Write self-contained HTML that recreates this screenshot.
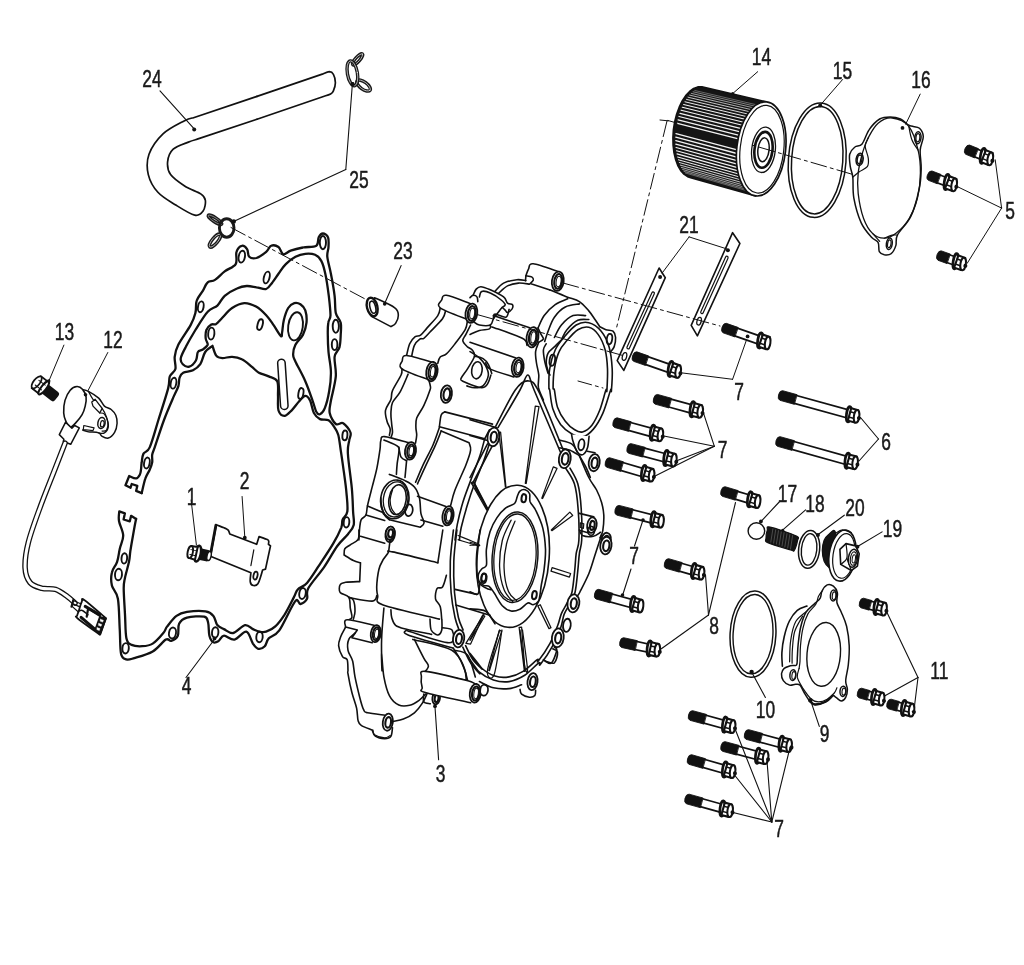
<!DOCTYPE html>
<html><head><meta charset="utf-8"><title>Parts diagram</title>
<style>
html,body{margin:0;padding:0;background:#fff;}
body{width:1024px;height:965px;overflow:hidden;}
svg{display:block;filter:blur(0.45px);}
text{font-family:"Liberation Sans",sans-serif;fill:#1a1a1a;}
path,line,ellipse{stroke-linecap:round;stroke-linejoin:round;}
</style></head><body>
<svg width="1024" height="965" viewBox="0 0 1024 965">
<rect width="1024" height="965" fill="#fff"/>
<!-- 00_labels.py -->
<text transform="translate(142.3 86.5) scale(0.75 1)" font-size="23.2" text-anchor="start" stroke="#1a1a1a" stroke-width="0.5">24</text>
<text transform="translate(349.3 187.5) scale(0.75 1)" font-size="23.2" text-anchor="start" stroke="#1a1a1a" stroke-width="0.5">25</text>
<text transform="translate(393.3 259.0) scale(0.75 1)" font-size="23.2" text-anchor="start" stroke="#1a1a1a" stroke-width="0.5">23</text>
<text transform="translate(54.8 340.0) scale(0.75 1)" font-size="23.2" text-anchor="start" stroke="#1a1a1a" stroke-width="0.5">13</text>
<text transform="translate(103.3 348.0) scale(0.75 1)" font-size="23.2" text-anchor="start" stroke="#1a1a1a" stroke-width="0.5">12</text>
<text transform="translate(751.8 65.0) scale(0.75 1)" font-size="23.2" text-anchor="start" stroke="#1a1a1a" stroke-width="0.5">14</text>
<text transform="translate(832.8 79.0) scale(0.75 1)" font-size="23.2" text-anchor="start" stroke="#1a1a1a" stroke-width="0.5">15</text>
<text transform="translate(911.3 88.0) scale(0.75 1)" font-size="23.2" text-anchor="start" stroke="#1a1a1a" stroke-width="0.5">16</text>
<text transform="translate(1005.3 219.0) scale(0.75 1)" font-size="23.2" text-anchor="start" stroke="#1a1a1a" stroke-width="0.5">5</text>
<text transform="translate(679.3 232.5) scale(0.75 1)" font-size="23.2" text-anchor="start" stroke="#1a1a1a" stroke-width="0.5">21</text>
<text transform="translate(734.3 400.2) scale(0.75 1)" font-size="23.2" text-anchor="start" stroke="#1a1a1a" stroke-width="0.5">7</text>
<text transform="translate(717.8 457.5) scale(0.75 1)" font-size="23.2" text-anchor="start" stroke="#1a1a1a" stroke-width="0.5">7</text>
<text transform="translate(881.3 449.8) scale(0.75 1)" font-size="23.2" text-anchor="start" stroke="#1a1a1a" stroke-width="0.5">6</text>
<text transform="translate(186.8 505.0) scale(0.75 1)" font-size="23.2" text-anchor="start" stroke="#1a1a1a" stroke-width="0.5">1</text>
<text transform="translate(239.8 489.0) scale(0.75 1)" font-size="23.2" text-anchor="start" stroke="#1a1a1a" stroke-width="0.5">2</text>
<text transform="translate(181.8 694.0) scale(0.75 1)" font-size="23.2" text-anchor="start" stroke="#1a1a1a" stroke-width="0.5">4</text>
<text transform="translate(435.8 781.5) scale(0.75 1)" font-size="23.2" text-anchor="start" stroke="#1a1a1a" stroke-width="0.5">3</text>
<text transform="translate(777.8 501.5) scale(0.75 1)" font-size="23.2" text-anchor="start" stroke="#1a1a1a" stroke-width="0.5">17</text>
<text transform="translate(805.3 511.5) scale(0.75 1)" font-size="23.2" text-anchor="start" stroke="#1a1a1a" stroke-width="0.5">18</text>
<text transform="translate(845.3 515.5) scale(0.75 1)" font-size="23.2" text-anchor="start" stroke="#1a1a1a" stroke-width="0.5">20</text>
<text transform="translate(882.8 536.5) scale(0.75 1)" font-size="23.2" text-anchor="start" stroke="#1a1a1a" stroke-width="0.5">19</text>
<text transform="translate(629.3 564.0) scale(0.75 1)" font-size="23.2" text-anchor="start" stroke="#1a1a1a" stroke-width="0.5">7</text>
<text transform="translate(709.3 634.0) scale(0.75 1)" font-size="23.2" text-anchor="start" stroke="#1a1a1a" stroke-width="0.5">8</text>
<text transform="translate(930.3 679.0) scale(0.75 1)" font-size="23.2" text-anchor="start" stroke="#1a1a1a" stroke-width="0.5">11</text>
<text transform="translate(755.8 717.5) scale(0.75 1)" font-size="23.2" text-anchor="start" stroke="#1a1a1a" stroke-width="0.5">10</text>
<text transform="translate(819.8 741.5) scale(0.75 1)" font-size="23.2" text-anchor="start" stroke="#1a1a1a" stroke-width="0.5">9</text>
<text transform="translate(774.3 836.5) scale(0.75 1)" font-size="23.2" text-anchor="start" stroke="#1a1a1a" stroke-width="0.5">7</text>
<!-- 10_hose.py -->
<path d="M257.0 96.4L323.0 73.9C324.0 73.5 327.6 71.7 329.3 71.7C331.1 71.8 332.4 72.5 333.4 74.3C334.4 76.1 335.4 79.9 335.4 82.7C335.4 85.4 334.2 88.9 333.4 90.8C332.6 92.7 332.1 93.2 330.6 94.1C329.1 95.0 325.3 95.9 324.2 96.2L257.0 119.2" fill="none" stroke="#111" stroke-width="1.70" />
<path d="M257.0 96.4L193.5 117.7C192.0 118.2 189.7 118.0 184.6 120.7C179.5 123.5 168.9 128.4 163.0 133.9C157.1 139.5 151.5 147.5 149.0 154.3C146.6 161.0 146.8 168.2 148.3 174.6C149.8 180.9 153.4 187.3 157.9 192.3C162.5 197.4 169.6 201.2 175.7 205.0C181.8 208.8 190.2 214.2 194.7 215.2C199.3 216.2 201.3 213.6 203.1 211.1C204.9 208.7 205.7 203.3 205.4 200.5C205.1 197.6 204.6 196.5 201.1 194.1C197.6 191.7 189.7 189.3 184.6 186.0C179.5 182.7 173.5 178.6 170.6 174.6C167.8 170.6 167.2 166.1 167.6 161.9C168.0 157.6 169.7 152.5 173.2 149.2C176.6 145.9 184.5 143.7 188.4 142.1C192.3 140.4 195.2 139.8 196.5 139.4L257.0 119.2" fill="none" stroke="#111" stroke-width="1.70" />
<line x1="160.0" y1="90.8" x2="194.2" y2="128.9" stroke="#111" stroke-width="1.10"/>
<circle cx="194.2" cy="129.4" r="2.0" fill="#111"/>
<line x1="345.8" y1="169.5" x2="352.4" y2="83.7" stroke="#111" stroke-width="1.10"/>
<circle cx="352.4" cy="83.7" r="1.7" fill="#111"/>
<line x1="345.8" y1="169.5" x2="233.6" y2="221.5" stroke="#111" stroke-width="1.10"/>
<circle cx="233.1" cy="221.8" r="1.7" fill="#111"/>
<ellipse cx="357.6" cy="59.3" rx="7.2" ry="2.2" transform="rotate(-48.0 357.6 59.3)" fill="none" stroke="#1a1a1a" stroke-width="3.4"/>
<ellipse cx="357.6" cy="59.3" rx="7.2" ry="2.2" transform="rotate(-48.0 357.6 59.3)" fill="none" stroke="#fff" stroke-width="0.6"/>
<ellipse cx="363.6" cy="85.6" rx="8.0" ry="3.6" transform="rotate(36.0 363.6 85.6)" fill="none" stroke="#1a1a1a" stroke-width="3.4"/>
<ellipse cx="363.6" cy="85.6" rx="8.0" ry="3.6" transform="rotate(36.0 363.6 85.6)" fill="none" stroke="#fff" stroke-width="0.6"/>
<ellipse cx="352.4" cy="73.3" rx="5.0" ry="12.6" transform="rotate(-10.0 352.4 73.3)" fill="none" stroke="#1a1a1a" stroke-width="3.4"/>
<ellipse cx="352.4" cy="73.3" rx="5.0" ry="12.6" transform="rotate(-10.0 352.4 73.3)" fill="none" stroke="#fff" stroke-width="0.6"/>
<ellipse cx="215.0" cy="219.8" rx="8.0" ry="2.0" transform="rotate(33.0 215.0 219.8)" fill="none" stroke="#1a1a1a" stroke-width="3.4"/>
<ellipse cx="215.0" cy="219.8" rx="8.0" ry="2.0" transform="rotate(33.0 215.0 219.8)" fill="none" stroke="#fff" stroke-width="0.4"/>
<ellipse cx="215.0" cy="240.6" rx="8.2" ry="2.8" transform="rotate(-50.0 215.0 240.6)" fill="none" stroke="#1a1a1a" stroke-width="3.4"/>
<ellipse cx="215.0" cy="240.6" rx="8.2" ry="2.8" transform="rotate(-50.0 215.0 240.6)" fill="none" stroke="#fff" stroke-width="0.6"/>
<ellipse cx="226.7" cy="228.0" rx="7.3" ry="9.2" transform="rotate(0.0 226.7 228.0)" fill="none" stroke="#1a1a1a" stroke-width="2.9"/>
<circle cx="352.6" cy="84.2" r="2.1" fill="#111"/>
<circle cx="233.8" cy="221.4" r="2.2" fill="#111"/>
<!-- 20_gasket.py -->
<path d="M141.7 493.1L136.1 490.9L137.3 485.9L131.7 484.0L130.5 487.8L125.5 485.3L129.2 476.0C130.4 476.4 134.3 478.7 136.1 478.4C137.8 478.2 139.0 476.2 139.8 474.7C140.6 473.3 140.7 471.8 141.0 469.7C141.3 467.7 141.2 465.0 141.7 462.3C142.1 459.6 142.2 456.1 143.5 453.6C144.9 451.1 147.3 453.0 149.7 447.4C152.2 441.8 155.4 429.8 158.4 420.0C161.5 410.2 166.2 395.8 168.1 388.6C170.0 381.3 168.6 379.6 169.8 376.4C171.0 373.1 174.6 372.3 175.4 369.0C176.2 365.8 174.2 360.9 174.7 356.8C175.2 352.8 175.7 349.9 178.4 344.6C181.0 339.3 187.7 330.4 190.6 325.1C193.4 319.8 194.4 317.0 195.4 312.9C196.5 308.8 195.4 304.3 196.7 300.7C197.9 297.0 200.9 294.0 202.8 290.9C204.6 287.9 205.6 284.2 207.7 282.4C209.7 280.5 212.1 281.8 215.0 279.9C217.8 278.1 221.3 274.0 224.7 271.4C228.2 268.7 233.8 267.3 235.7 264.1C237.7 260.8 235.4 254.9 236.5 251.9C237.5 248.8 240.0 246.2 241.8 245.8C243.6 245.3 246.0 247.6 247.2 249.4C248.4 251.2 247.6 255.3 249.2 256.7C250.7 258.2 253.6 258.8 256.5 258.0C259.3 257.1 263.8 253.9 266.2 251.9C268.7 249.8 269.1 246.6 271.1 245.8C273.2 244.9 276.4 245.5 278.5 247.0C280.5 248.4 281.3 253.7 283.3 254.3C285.4 254.9 287.4 251.8 290.7 250.6C293.9 249.5 298.6 248.3 302.9 247.5C307.1 246.6 313.7 247.5 316.3 245.8C318.9 244.0 317.6 239.2 318.7 237.2C319.8 235.2 321.3 233.5 322.9 233.5C324.4 233.5 327.1 235.0 328.0 237.2C329.0 239.4 328.6 243.7 328.5 247.0C328.4 250.2 326.9 252.3 327.3 256.7C327.7 261.2 329.7 267.3 330.9 273.8C332.2 280.3 333.8 289.3 334.6 295.8C335.4 302.3 334.8 308.4 335.8 312.9C336.8 317.4 339.9 319.0 340.7 322.7C341.5 326.3 340.9 330.8 340.7 334.9C340.5 338.9 340.5 343.4 339.5 347.1C338.5 350.7 335.2 352.0 334.6 356.8C334.0 361.7 336.4 369.0 335.8 376.4C335.2 383.7 332.0 394.7 330.9 400.8C329.9 406.9 328.9 409.1 329.7 413.0C330.5 416.9 333.6 422.3 335.8 424.0C338.1 425.7 340.7 421.8 343.2 423.2C345.6 424.7 349.5 429.6 350.5 432.5C351.5 435.4 349.6 437.0 349.2 440.5C348.7 444.1 347.4 445.8 347.9 453.7C348.3 461.6 350.9 478.3 351.8 488.0C352.7 497.7 352.8 505.6 353.1 511.7C353.4 517.9 354.5 521.2 353.7 524.9C352.8 528.7 350.6 530.6 347.9 534.2C345.1 537.7 341.3 540.5 337.3 546.0C333.3 551.5 329.0 560.1 324.1 567.1C319.3 574.1 311.2 582.9 308.3 588.2C305.4 593.5 308.3 596.1 307.0 598.8C305.7 601.4 302.4 603.6 300.4 604.0C298.4 604.5 298.6 597.0 295.1 601.4C291.6 605.8 283.7 624.2 279.3 630.4C274.9 636.5 271.2 635.7 268.8 638.3C266.3 640.9 266.6 644.5 264.8 646.2C263.0 648.0 260.2 649.3 258.2 648.8C256.2 648.4 254.9 646.4 252.9 643.6C251.0 640.7 249.4 632.4 246.3 631.7C243.3 631.0 238.2 639.0 234.5 639.6C230.7 640.3 226.6 635.4 223.9 635.7C221.3 635.9 220.4 639.8 218.7 640.9C216.9 642.0 214.9 643.1 213.4 642.3C211.8 641.4 210.3 639.0 209.4 635.7C208.5 632.4 209.0 625.6 208.1 622.5C207.2 619.3 207.7 617.5 204.2 616.7C200.6 615.9 191.2 616.5 187.0 617.7C182.8 618.9 180.6 620.8 179.1 623.8C177.6 626.8 179.1 632.8 177.8 635.7C176.5 638.5 173.2 640.3 171.2 640.9C169.2 641.6 169.0 637.9 165.9 639.6C162.8 641.4 158.0 648.4 152.7 651.5C147.5 654.6 138.7 656.8 134.3 658.1C129.9 659.4 128.6 660.1 126.4 659.4C124.2 658.7 122.2 659.0 121.1 654.1C120.0 649.3 120.3 639.6 119.8 630.4C119.2 621.2 119.2 606.2 117.9 598.8C116.6 591.3 112.9 590.0 111.9 585.6C110.9 581.2 111.0 576.3 111.9 572.4C112.7 568.4 115.8 565.8 117.1 561.8C118.5 557.9 118.8 553.0 119.8 548.7C120.8 544.3 123.3 540.1 123.2 535.5C123.1 530.9 119.6 525.0 119.0 521.0C118.3 517.0 119.2 513.0 119.3 511.4L124.9 513.3L123.6 519.5L129.8 521.3L131.1 515.8L136.1 518.9" fill="none" stroke="#111" stroke-width="2.30" />
<path d="M141.7 493.1C142.3 490.7 144.0 482.3 145.4 478.4C146.7 474.5 148.6 472.4 149.7 469.7C150.9 467.0 151.8 464.8 152.2 462.3C152.6 459.8 151.8 457.3 152.2 454.8C152.6 452.3 152.7 453.2 154.7 447.4C156.7 441.6 160.8 428.6 164.0 420.0C167.2 411.4 171.6 401.5 174.0 395.9C176.4 390.3 177.4 389.2 178.4 386.1C179.3 383.1 178.8 379.8 179.6 377.6C180.4 375.3 181.0 373.9 183.2 372.7C185.5 371.5 190.2 371.7 193.0 370.3C195.9 368.8 198.3 367.2 200.3 364.2C202.4 361.1 203.2 355.0 205.2 352.0C207.2 348.9 211.3 346.9 212.5 345.8C213.1 347.5 214.6 353.6 216.2 355.6C217.8 357.6 219.7 357.9 222.3 358.1C224.9 358.3 228.8 356.6 232.1 356.8C235.3 357.0 238.6 357.6 241.8 359.3C245.1 360.9 248.8 364.4 251.6 366.6C254.4 368.8 256.1 371.1 258.9 372.7C261.8 374.3 265.6 374.9 268.7 376.4C271.7 377.8 275.7 378.0 277.2 381.2C278.8 384.5 277.8 391.0 278.0 395.9C278.2 400.8 277.4 407.2 278.5 410.5C279.6 413.9 282.3 416.0 284.6 415.9C286.8 415.8 289.4 412.5 291.9 410.1C294.3 407.6 297.0 403.6 299.2 401.3C301.4 398.9 303.5 396.0 305.3 395.9C307.1 395.8 308.8 397.9 310.2 400.8C311.6 403.6 312.2 409.9 313.9 413.0C315.5 416.0 317.5 417.9 320.0 419.1C322.4 420.3 326.1 418.9 328.5 420.3C330.9 421.7 333.0 425.2 334.6 427.6C336.2 430.1 337.3 431.2 338.3 435.0C339.3 438.7 339.8 443.9 340.7 450.1C341.7 456.3 342.9 465.0 343.9 472.2C344.9 479.4 346.0 486.7 346.5 493.3C347.1 499.9 348.0 507.3 347.3 511.7C346.7 516.1 343.6 517.0 342.6 519.6C341.6 522.3 342.8 523.6 341.3 527.6C339.7 531.5 337.1 537.0 333.3 543.4C329.6 549.8 323.2 559.2 318.8 565.8C314.5 572.4 310.5 579.0 307.0 582.9C303.5 586.9 300.0 587.1 297.8 589.5C295.6 591.9 296.0 593.3 293.8 597.4C291.6 601.6 287.6 609.7 284.6 614.6C281.5 619.4 278.4 623.6 275.3 626.4C272.3 629.3 268.8 630.8 266.1 631.7C263.5 632.6 261.7 632.1 259.5 631.7C257.3 631.3 255.3 630.2 252.9 629.1C250.5 628.0 248.3 624.5 245.0 625.1C241.7 625.8 236.7 632.4 233.2 633.0C229.6 633.7 226.6 630.4 223.9 629.1C221.3 627.8 219.1 627.3 217.3 625.1C215.6 622.9 215.4 618.2 213.4 615.9C211.4 613.6 209.9 612.1 205.5 611.4C201.1 610.7 191.8 611.2 187.0 611.9C182.2 612.7 179.8 613.5 176.5 615.9C173.2 618.3 169.4 623.6 167.2 626.4C165.0 629.3 165.7 630.2 163.3 633.0C160.9 635.9 156.2 641.4 152.7 643.6C149.2 645.8 145.7 646.0 142.2 646.2C138.7 646.4 134.3 646.2 131.6 644.9C129.0 643.6 127.5 643.4 126.4 638.3C125.3 633.2 125.5 622.9 125.0 614.6C124.6 606.2 123.7 594.4 123.7 588.2C123.7 582.1 124.2 582.1 125.0 577.7C125.9 573.3 128.1 566.2 129.0 561.8C129.9 557.4 129.7 555.7 130.3 551.3C131.0 546.9 132.0 540.9 133.0 535.5C133.9 530.1 135.5 521.6 136.1 518.9" fill="none" stroke="#111" stroke-width="2.30" />
<path d="M180.8 358.1C181.3 355.2 183.2 351.7 185.7 347.1C188.1 342.4 191.8 335.9 195.4 330.0C199.1 324.1 204.0 315.7 207.7 311.7C211.3 307.6 214.6 308.2 217.4 305.6C220.3 302.9 221.5 298.6 224.7 295.8C228.0 293.0 233.3 290.1 237.0 288.5C240.6 286.8 243.5 286.2 246.7 286.0C250.0 285.8 253.2 286.8 256.5 287.3C259.7 287.7 263.6 289.8 266.2 289.0C268.9 288.2 270.3 284.9 272.4 282.4C274.4 279.9 276.2 276.9 278.5 273.8C280.7 270.8 282.9 266.9 285.8 264.1C288.6 261.2 292.3 258.4 295.5 256.7C298.8 255.0 302.1 254.1 305.3 253.8C308.6 253.5 312.4 253.6 315.1 254.8C317.8 256.0 319.7 258.0 321.4 261.1C323.1 264.3 324.1 268.1 325.3 273.8C326.6 279.6 327.9 288.9 328.8 295.8C329.6 302.7 330.5 310.9 330.5 315.3C330.4 319.8 328.7 319.4 328.3 322.7C327.8 325.9 327.7 330.0 327.8 334.9C327.8 339.7 328.0 345.8 328.5 352.0C329.0 358.1 330.8 365.0 330.9 371.5C331.1 378.0 330.3 384.9 329.2 391.0C328.2 397.1 326.4 404.2 324.8 408.1C323.3 412.0 321.4 413.6 320.0 414.2C318.5 414.8 317.5 414.0 316.3 411.8C315.1 409.5 314.5 405.9 312.6 400.8C310.8 395.7 308.2 387.8 305.3 381.2C302.5 374.7 297.6 366.2 295.5 361.7C293.5 357.2 293.1 357.2 293.1 354.4C293.1 351.5 293.9 347.9 295.5 344.6C297.2 341.4 301.0 338.5 302.9 334.9C304.7 331.2 306.1 326.7 306.5 322.7C306.9 318.6 306.3 313.5 305.3 310.4C304.3 307.4 302.3 305.6 300.4 304.3C298.6 303.1 296.4 302.5 294.3 303.1C292.3 303.7 290.0 305.2 288.2 308.0C286.5 310.9 284.8 316.1 283.8 320.2C282.8 324.3 282.6 329.8 282.1 332.4C281.6 335.1 282.3 337.3 280.9 336.1C279.5 334.9 276.0 328.6 273.6 325.1C271.1 321.6 269.1 318.4 266.2 315.3C263.4 312.3 260.1 308.8 256.5 306.8C252.8 304.8 248.3 302.9 244.3 303.1C240.2 303.3 235.7 305.6 232.1 308.0C228.4 310.4 224.9 315.1 222.3 317.8C219.7 320.4 218.0 322.7 216.2 323.9C214.4 325.0 212.9 323.6 211.3 324.6C209.7 325.6 207.4 327.7 206.4 330.0C205.5 332.3 205.5 336.1 205.7 338.5C205.9 341.0 208.1 342.8 207.7 344.6C207.2 346.5 204.4 348.3 202.8 349.5C201.1 350.7 199.0 350.1 197.9 352.0C196.8 353.8 197.4 358.1 195.9 360.5C194.5 362.9 191.5 366.0 189.3 366.6C187.1 367.2 184.2 365.6 182.8 364.2C181.3 362.7 180.3 360.9 180.8 358.1Z" fill="none" stroke="#111" stroke-width="2.30" />
<ellipse cx="322.9" cy="242.6" rx="3.1" ry="6.6" transform="rotate(0.0 322.9 242.6)" fill="none" stroke="#111" stroke-width="1.90"/>
<ellipse cx="241.8" cy="256.7" rx="3.1" ry="6.0" transform="rotate(10.0 241.8 256.7)" fill="none" stroke="#111" stroke-width="1.90"/>
<ellipse cx="200.8" cy="306.8" rx="2.8" ry="5.5" transform="rotate(10.0 200.8 306.8)" fill="none" stroke="#111" stroke-width="1.90"/>
<ellipse cx="211.3" cy="333.6" rx="3.1" ry="6.0" transform="rotate(5.0 211.3 333.6)" fill="none" stroke="#111" stroke-width="1.90"/>
<ellipse cx="173.5" cy="383.2" rx="2.8" ry="5.5" transform="rotate(10.0 173.5 383.2)" fill="none" stroke="#111" stroke-width="1.90"/>
<ellipse cx="266.7" cy="277.5" rx="2.8" ry="6.0" transform="rotate(15.0 266.7 277.5)" fill="none" stroke="#111" stroke-width="1.90"/>
<ellipse cx="260.1" cy="324.6" rx="2.5" ry="5.5" transform="rotate(15.0 260.1 324.6)" fill="none" stroke="#111" stroke-width="1.90"/>
<ellipse cx="335.8" cy="326.3" rx="3.1" ry="6.6" transform="rotate(0.0 335.8 326.3)" fill="none" stroke="#111" stroke-width="1.90"/>
<ellipse cx="334.6" cy="344.6" rx="2.8" ry="5.5" transform="rotate(0.0 334.6 344.6)" fill="none" stroke="#111" stroke-width="1.90"/>
<ellipse cx="300.9" cy="393.5" rx="2.5" ry="5.5" transform="rotate(10.0 300.9 393.5)" fill="none" stroke="#111" stroke-width="1.90"/>
<ellipse cx="344.9" cy="435.4" rx="2.5" ry="4.9" transform="rotate(5.0 344.9 435.4)" fill="none" stroke="#111" stroke-width="1.90"/>
<ellipse cx="295.5" cy="326.3" rx="7.3" ry="14.2" transform="rotate(8.0 295.5 326.3)" fill="none" stroke="#111" stroke-width="1.90"/>
<ellipse cx="125.6" cy="648.3" rx="3.2" ry="5.2" transform="rotate(5.0 125.6 648.3)" fill="none" stroke="#111" stroke-width="1.90"/>
<ellipse cx="172.5" cy="633.0" rx="3.5" ry="5.5" transform="rotate(10.0 172.5 633.0)" fill="none" stroke="#111" stroke-width="1.90"/>
<ellipse cx="215.2" cy="632.5" rx="3.2" ry="5.2" transform="rotate(5.0 215.2 632.5)" fill="none" stroke="#111" stroke-width="1.90"/>
<ellipse cx="259.5" cy="637.0" rx="3.2" ry="5.2" transform="rotate(5.0 259.5 637.0)" fill="none" stroke="#111" stroke-width="1.90"/>
<ellipse cx="302.5" cy="593.5" rx="3.2" ry="5.5" transform="rotate(10.0 302.5 593.5)" fill="none" stroke="#111" stroke-width="1.90"/>
<ellipse cx="346.5" cy="522.3" rx="2.8" ry="5.2" transform="rotate(5.0 346.5 522.3)" fill="none" stroke="#111" stroke-width="1.90"/>
<ellipse cx="124.3" cy="558.4" rx="2.8" ry="5.2" transform="rotate(5.0 124.3 558.4)" fill="none" stroke="#111" stroke-width="1.90"/>
<ellipse cx="118.5" cy="574.5" rx="3.5" ry="5.8" transform="rotate(5.0 118.5 574.5)" fill="none" stroke="#111" stroke-width="1.90"/>
<ellipse cx="146.9" cy="463.0" rx="2.8" ry="5.5" transform="rotate(10.0 146.9 463.0)" fill="none" stroke="#111" stroke-width="1.90"/>
<path d="M281.4 362.9L284.3 405.7" fill="none" stroke="#111" stroke-width="9" stroke-linecap="round"/>
<path d="M281.4 362.9L284.3 405.7" fill="none" stroke="#fff" stroke-width="6" stroke-linecap="round"/>
<!-- 30_sensor_plate.py -->
<path d="M216.3 524.8C217.9 525.5 224.2 527.7 226.2 528.7C228.3 529.7 228.0 529.8 228.6 530.7C229.2 531.6 229.6 533.4 229.8 534.0L256.7 544.3L259.1 536.6C260.4 537.1 265.7 538.8 267.3 539.6C268.9 540.4 268.5 540.5 268.7 541.2C268.9 542.0 268.5 543.8 268.4 544.3L270.5 545.9L265.5 569.1L262.6 570.0C262.3 571.0 261.6 573.9 260.8 576.2C260.0 578.5 259.1 582.2 257.9 583.8C256.7 585.4 254.7 585.8 253.4 585.5C252.2 585.3 250.7 584.2 250.3 582.0C249.8 579.9 250.8 574.2 250.9 572.7L210.4 556.2L216.3 524.8Z" fill="#fff" stroke="#111" stroke-width="1.70" />
<line x1="215.9" y1="525.2" x2="210.2" y2="556.0" stroke="#111" stroke-width="2.80"/>
<line x1="253.8" y1="549.8" x2="250.9" y2="565.6" stroke="#111" stroke-width="1.20"/>
<ellipse cx="255.5" cy="575.6" rx="2.0" ry="4.0" transform="rotate(12.0 255.5 575.6)" fill="none" stroke="#111" stroke-width="1.80"/>
<g transform="translate(193.4 552.7) rotate(12)">
<rect x="2" y="-5.8" width="15" height="11.6" rx="3" fill="#111"/>
<ellipse cx="16" cy="0" rx="2.0" ry="4.6" fill="#fff" stroke="#111" stroke-width="1.4"/>
<ellipse cx="4.5" cy="0" rx="3" ry="8" fill="#fff" stroke="#111" stroke-width="2.6"/>
<path d="M-3.5 -6 L3 -6.5 L3 6.5 L-3.5 6 Z" fill="#fff" stroke="#111" stroke-width="2.0"/>
<ellipse cx="-3.2" cy="0" rx="2.6" ry="6.2" fill="#fff" stroke="#111" stroke-width="1.9"/>
<path d="M-3 -2.5 L3 -2.5 M-3 2.5 L3 2.5" stroke="#111" stroke-width="1"/>
</g>
<line x1="191.1" y1="500.0" x2="196.4" y2="545.1" stroke="#111" stroke-width="1.00"/>
<line x1="242.1" y1="496.5" x2="244.8" y2="537.3" stroke="#111" stroke-width="1.00"/>
<circle cx="244.8" cy="537.7" r="1.9" fill="#111"/>
<path d="M82.1 389.6C83.2 389.9 85.6 389.9 88.4 391.3C91.1 392.7 96.0 395.7 98.7 398.1C101.3 400.6 102.3 404.2 104.4 406.1C106.4 408.0 109.3 408.0 111.2 409.5C113.1 411.1 114.8 413.0 115.8 415.2C116.7 417.5 117.3 420.4 117.1 423.2C116.9 426.1 116.1 429.9 114.6 432.3C113.1 434.8 110.4 437.4 108.3 438.0C106.3 438.7 103.7 437.2 102.1 436.3C100.5 435.5 100.9 433.7 98.7 432.9C96.4 432.1 91.1 432.2 88.4 431.8C85.7 431.3 83.6 430.3 82.7 430.1" fill="#fff" stroke="#111" stroke-width="1.50" />
<path d="M88.4 391.3C89.2 392.6 90.7 396.4 93.0 399.3C95.2 402.1 99.8 405.4 102.1 408.4C104.4 411.4 105.6 414.5 106.6 417.5C107.7 420.6 108.7 424.1 108.3 426.6C108.0 429.2 106.0 431.9 104.4 432.9C102.7 433.9 99.6 432.9 98.7 432.9" fill="none" stroke="#111" stroke-width="1.30" />
<path d="M99.8 413.0C100.6 413.1 103.0 412.6 104.4 414.1C105.7 415.6 107.4 419.4 107.8 422.1C108.2 424.7 107.6 428.5 106.6 430.1C105.7 431.6 102.8 431.0 102.1 431.2" fill="none" stroke="#111" stroke-width="1.20" />
<ellipse cx="101.5" cy="423.0" rx="3.6" ry="5.5" transform="rotate(10.0 101.5 423.0)" fill="none" stroke="#111" stroke-width="1.50"/>
<ellipse cx="102.3" cy="423.8" rx="1.8" ry="3.2" transform="rotate(10.0 102.3 423.8)" fill="none" stroke="#111" stroke-width="1.20"/>
<path d="M91.8 402.1L95.2 399.3L102.1 408.4L99.8 413.0L93.0 406.1L91.8 402.1Z" fill="#fff" stroke="#111" stroke-width="1.30" />
<path d="M83.8 425.5L94.1 427.8L93.0 430.6L83.3 429.5L83.8 425.5Z" fill="#fff" stroke="#111" stroke-width="1.20" />
<path d="M77.0 386.5C79.1 386.4 81.2 387.8 82.7 389.6C84.2 391.3 85.7 394.2 86.1 397.0C86.5 399.7 85.9 403.2 85.2 406.1C84.5 409.1 83.7 411.9 82.1 414.7C80.6 417.4 77.8 420.6 75.9 422.6C73.9 424.7 71.8 427.3 70.2 427.2C68.5 427.1 67.2 424.4 66.2 422.1C65.1 419.7 63.8 416.6 63.7 413.0C63.5 409.3 63.9 404.2 65.0 400.4C66.1 396.6 68.2 392.5 70.2 390.2C72.2 387.8 74.9 386.6 77.0 386.5Z" fill="#fff" stroke="#111" stroke-width="1.60" />
<path d="M65.6 422.1L59.3 434.6L63.9 439.2L63.3 441.5L70.7 444.3L79.3 427.8L74.7 425.5L71.9 428.3L68.4 424.9L65.6 422.1Z" fill="#fff" stroke="#111" stroke-width="1.50" />
<line x1="88.2" y1="390.2" x2="107.8" y2="352.5" stroke="#111" stroke-width="1.00"/>
<circle cx="85.5" cy="394.7" r="1.8" fill="#111"/>
<path d="M65.0 443.2C63.5 447.2 59.9 456.5 55.6 467.4C51.4 478.3 44.2 495.9 39.7 508.4C35.1 521.0 30.7 532.8 28.3 542.7C25.8 552.5 24.8 561.1 25.1 567.8C25.4 574.4 27.3 579.2 30.1 582.6C32.9 586.0 37.7 587.1 41.9 588.3C46.2 589.4 51.4 588.1 55.6 589.4C59.8 590.8 63.8 594.0 67.0 596.3C70.3 598.6 73.7 602.0 75.0 603.1" fill="none" stroke="#111" stroke-width="5.6" stroke-linecap="butt"/>
<path d="M65.0 443.2C63.5 447.2 59.9 456.5 55.6 467.4C51.4 478.3 44.2 495.9 39.7 508.4C35.1 521.0 30.7 532.8 28.3 542.7C25.8 552.5 24.8 561.1 25.1 567.8C25.4 574.4 27.3 579.2 30.1 582.6C32.9 586.0 37.7 587.1 41.9 588.3C46.2 589.4 51.4 588.1 55.6 589.4C59.8 590.8 63.8 594.0 67.0 596.3C70.3 598.6 73.7 602.0 75.0 603.1" fill="none" stroke="#fff" stroke-width="3.0" stroke-linecap="butt"/>
<line x1="73.1" y1="600.5" x2="81.8" y2="604.2" stroke="#111" stroke-width="1.20"/>
<line x1="72.4" y1="603.6" x2="81.1" y2="607.4" stroke="#111" stroke-width="1.20"/>
<line x1="71.8" y1="606.1" x2="78.7" y2="612.3" stroke="#111" stroke-width="1.20"/>
<line x1="73.4" y1="599.9" x2="71.5" y2="606.7" stroke="#111" stroke-width="2.20"/>
<path d="M106.0 618.2L99.8 634.7C96.1 632.0 81.5 621.7 77.7 618.5C73.9 615.4 76.9 617.0 77.1 615.8C77.3 614.5 77.9 613.4 78.7 611.1C79.4 608.8 80.8 603.6 81.8 601.8C82.7 599.9 80.5 597.5 84.6 600.2C88.6 603.0 102.4 615.2 106.0 618.2Z" fill="#fff" stroke="#111" stroke-width="1.80" />
<path d="M78.7 611.1C79.3 611.0 80.8 609.8 82.4 610.5C83.9 611.1 87.0 614.1 88.0 614.8" fill="none" stroke="#111" stroke-width="1.50" />
<path d="M99.8 616.7L106.0 618.5L100.4 634.4L95.1 629.7L99.8 616.7Z" fill="#111" stroke="#111" stroke-width="1.50" />
<path d="M100.6 619.4L103.3 620.2L102.7 622.1L100.1 621.1L100.6 619.4Z" fill="#fff" stroke="#fff" stroke-width="0.50" />
<path d="M98.9 623.5L101.7 624.4L101.0 626.3L98.4 625.3L98.9 623.5Z" fill="#fff" stroke="#fff" stroke-width="0.50" />
<path d="M97.2 627.8L99.9 628.6L99.3 630.5L96.7 629.5L97.2 627.8Z" fill="#fff" stroke="#fff" stroke-width="0.50" />
<line x1="85.2" y1="606.4" x2="99.8" y2="614.8" stroke="#111" stroke-width="3.00"/>
<line x1="81.1" y1="617.3" x2="94.8" y2="629.1" stroke="#111" stroke-width="3.00"/>
<line x1="88.0" y1="609.2" x2="86.7" y2="616.7" stroke="#111" stroke-width="2.20"/>
<line x1="89.2" y1="609.8" x2="100.4" y2="616.7" stroke="#111" stroke-width="1.20"/>
<line x1="83.6" y1="619.2" x2="96.7" y2="630.4" stroke="#111" stroke-width="1.00"/>
<g transform="translate(39.4 384.5) rotate(38)">
<rect x="3" y="-5.6" width="19" height="11.2" rx="3" fill="#111"/>
<path d="M-4 -7.5 L5 -7.5 L5 7.5 L-4 7.5 Z" fill="#fff" stroke="#111" stroke-width="1.8"/>
<ellipse cx="5.5" cy="0" rx="2.5" ry="8" fill="#fff" stroke="#111" stroke-width="2"/>
<ellipse cx="-3.5" cy="0" rx="3.2" ry="7.2" fill="#fff" stroke="#111" stroke-width="1.7"/>
<path d="M-3 -3 L5 -3 M-3 3 L5 3" stroke="#111" stroke-width="1"/>
</g>
<line x1="49.1" y1="380.5" x2="63.9" y2="345.1" stroke="#111" stroke-width="1.00"/>
<circle cx="48.7" cy="381.0" r="1.8" fill="#111"/>
<!-- 40_filter.py -->
<path d="M766.5 101.9 L701.9 86.7 L697.8 86.9 L693.6 88.5 L689.6 91.5 L685.7 95.6 L682.2 100.9 L679.2 107.2 L676.6 114.2 L674.7 121.7 L673.4 129.6 L672.9 137.6 L673.1 145.4 L674.0 152.8 L675.6 159.5 L677.8 165.5 L680.6 170.4 L683.9 174.2 L687.6 176.7 L691.5 177.9 L755.8 195.9 Z" fill="#151515" stroke="#111" stroke-width="1.6"/>
<path d="M694.8 90.5 L757.0 104.9" stroke="#f4f4f4" stroke-width="0.36" fill="none" stroke-linecap="butt"/>
<path d="M693.1 91.8 L755.1 106.2" stroke="#f4f4f4" stroke-width="0.48" fill="none" stroke-linecap="butt"/>
<path d="M691.3 93.4 L753.3 107.8" stroke="#f4f4f4" stroke-width="0.59" fill="none" stroke-linecap="butt"/>
<path d="M689.6 95.1 L751.5 109.7" stroke="#f4f4f4" stroke-width="0.69" fill="none" stroke-linecap="butt"/>
<path d="M688.0 97.2 L749.8 111.8" stroke="#f4f4f4" stroke-width="0.79" fill="none" stroke-linecap="butt"/>
<path d="M686.5 99.4 L748.1 114.1" stroke="#f4f4f4" stroke-width="0.88" fill="none" stroke-linecap="butt"/>
<path d="M685.0 101.8 L746.6 116.6" stroke="#f4f4f4" stroke-width="0.97" fill="none" stroke-linecap="butt"/>
<path d="M683.6 104.5 L745.1 119.3" stroke="#f4f4f4" stroke-width="1.04" fill="none" stroke-linecap="butt"/>
<path d="M682.3 107.3 L743.7 122.3" stroke="#f4f4f4" stroke-width="1.11" fill="none" stroke-linecap="butt"/>
<path d="M681.1 110.2 L742.4 125.3" stroke="#f4f4f4" stroke-width="1.18" fill="none" stroke-linecap="butt"/>
<path d="M680.0 113.3 L741.3 128.6" stroke="#f4f4f4" stroke-width="1.23" fill="none" stroke-linecap="butt"/>
<path d="M679.0 116.5 L740.2 131.9" stroke="#f4f4f4" stroke-width="1.27" fill="none" stroke-linecap="butt"/>
<path d="M678.1 119.9 L739.3 135.4" stroke="#f4f4f4" stroke-width="1.31" fill="none" stroke-linecap="butt"/>
<path d="M677.4 123.3 L738.5 138.9" stroke="#f4f4f4" stroke-width="1.33" fill="none" stroke-linecap="butt"/>
<path d="M676.0 133.7 L737.1 149.8" stroke="#f4f4f4" stroke-width="1.35" fill="none" stroke-linecap="butt"/>
<path d="M675.8 137.2 L736.9 153.5" stroke="#f4f4f4" stroke-width="1.33" fill="none" stroke-linecap="butt"/>
<path d="M675.8 140.7 L736.8 157.1" stroke="#f4f4f4" stroke-width="1.31" fill="none" stroke-linecap="butt"/>
<path d="M675.8 144.1 L737.0 160.7" stroke="#f4f4f4" stroke-width="1.27" fill="none" stroke-linecap="butt"/>
<path d="M676.1 147.5 L737.2 164.2" stroke="#f4f4f4" stroke-width="1.23" fill="none" stroke-linecap="butt"/>
<path d="M676.5 150.8 L737.6 167.6" stroke="#f4f4f4" stroke-width="1.18" fill="none" stroke-linecap="butt"/>
<path d="M677.0 153.9 L738.2 170.9" stroke="#f4f4f4" stroke-width="1.11" fill="none" stroke-linecap="butt"/>
<path d="M677.6 157.0 L738.8 174.0" stroke="#f4f4f4" stroke-width="1.04" fill="none" stroke-linecap="butt"/>
<path d="M678.4 159.8 L739.7 177.0" stroke="#f4f4f4" stroke-width="0.97" fill="none" stroke-linecap="butt"/>
<path d="M679.3 162.5 L740.6 179.8" stroke="#f4f4f4" stroke-width="0.88" fill="none" stroke-linecap="butt"/>
<path d="M680.3 165.1 L741.7 182.5" stroke="#f4f4f4" stroke-width="0.79" fill="none" stroke-linecap="butt"/>
<path d="M681.4 167.4 L742.9 184.9" stroke="#f4f4f4" stroke-width="0.69" fill="none" stroke-linecap="butt"/>
<path d="M682.7 169.5 L744.2 187.1" stroke="#f4f4f4" stroke-width="0.59" fill="none" stroke-linecap="butt"/>
<path d="M684.0 171.4 L745.7 189.1" stroke="#f4f4f4" stroke-width="0.48" fill="none" stroke-linecap="butt"/>
<path d="M685.4 173.0 L747.2 190.8" stroke="#f4f4f4" stroke-width="0.36" fill="none" stroke-linecap="butt"/>
<ellipse cx="761.2" cy="148.9" rx="24.4" ry="47.3" transform="rotate(6.5 761.2 148.9)" fill="#fff" stroke="#111" stroke-width="1.7"/>
<ellipse cx="762.0" cy="149.1" rx="21.8" ry="44.1" transform="rotate(6.5 761.2 148.9)" fill="none" stroke="#111" stroke-width="1.2"/>
<ellipse cx="763.5" cy="149.8" rx="11.8" ry="22.8" transform="rotate(6.5 763.5 149.8)" fill="none" stroke="#111" stroke-width="1.3"/>
<ellipse cx="763.5" cy="149.8" rx="9.0" ry="18.0" transform="rotate(6.5 763.5 149.8)" fill="none" stroke="#111" stroke-width="2.6"/>
<ellipse cx="763.5" cy="149.8" rx="5.6" ry="12.0" transform="rotate(6.5 763.5 149.8)" fill="none" stroke="#111" stroke-width="1.5"/>
<line x1="757.7" y1="71.7" x2="733.6" y2="92.8" stroke="#111" stroke-width="1.00"/>
<circle cx="732.7" cy="93.6" r="1.6" fill="#111"/>
<ellipse cx="817.2" cy="160.2" rx="28.8" ry="57.3" transform="rotate(4 817.2 160.2)" fill="none" stroke="#111" stroke-width="1.5"/>
<ellipse cx="817.2" cy="160.2" rx="25.6" ry="53.8" transform="rotate(4 817.2 160.2)" fill="none" stroke="#111" stroke-width="1.5"/>
<line x1="842.6" y1="79.5" x2="820.5" y2="104.9" stroke="#111" stroke-width="1.00"/>
<circle cx="820.2" cy="105.5" r="2.0" fill="#111"/>
<path d="M890.1 116.9C886.7 116.9 883.2 116.9 879.7 119.0C876.3 121.1 872.3 125.2 869.4 129.4C866.4 133.5 864.5 141.0 862.1 143.9C859.7 146.8 856.9 145.3 854.9 147.0C852.8 148.7 850.5 151.0 849.7 154.3C848.9 157.5 849.8 162.9 850.3 166.7C850.8 170.5 852.2 171.9 852.8 177.1C853.4 182.2 852.5 190.2 853.8 197.8C855.2 205.4 858.2 216.1 861.1 222.6C864.0 229.2 868.6 233.9 871.5 237.2C874.3 240.4 876.8 239.9 878.1 242.3C879.4 244.8 878.3 249.6 879.3 251.7C880.4 253.7 882.3 254.4 884.3 254.8C886.3 255.1 889.2 255.3 891.1 253.7C893.1 252.2 894.9 248.6 895.9 245.4C896.9 242.3 894.9 239.9 897.4 235.1C899.8 230.2 907.2 224.0 910.8 216.4C914.5 208.8 917.4 197.4 919.1 189.5C920.9 181.5 921.0 175.3 921.2 168.8C921.4 162.2 919.8 155.5 920.2 150.1C920.5 144.8 923.4 140.3 923.3 136.6C923.2 133.0 921.3 130.1 919.5 128.3C917.7 126.6 914.3 126.8 912.5 126.3C910.7 125.8 910.8 126.4 908.8 125.2C906.8 124.0 903.6 120.4 900.5 119.0C897.4 117.6 893.6 116.9 890.1 116.9Z" fill="#fff" stroke="#111" stroke-width="1.50" />
<path d="M892.2 118.0C897.3 118.5 904.4 120.9 908.8 126.3C913.1 131.6 916.2 142.3 918.1 150.1C920.0 157.9 920.5 165.0 920.4 172.9C920.3 180.9 919.3 190.2 917.5 197.8C915.6 205.4 912.7 212.6 909.2 218.5C905.7 224.4 900.5 229.7 896.3 233.0C892.2 236.3 888.3 238.1 884.3 238.2C880.3 238.3 875.9 236.7 872.5 233.4C869.0 230.1 866.0 225.1 863.6 218.5C861.2 211.9 859.1 201.2 858.2 193.6C857.3 186.0 857.4 179.8 858.2 172.9C858.9 166.0 861.1 158.1 862.7 152.2C864.4 146.3 865.8 142.5 868.3 137.7C870.9 132.8 874.1 126.4 878.1 123.2C882.1 119.9 887.1 117.5 892.2 118.0Z" fill="none" stroke="#111" stroke-width="1.30" />
<path d="M868.3 137.7C867.8 139.1 865.2 142.5 865.2 146.0C865.2 149.4 868.0 154.9 868.3 158.4C868.7 161.9 868.9 164.4 867.3 166.7C865.8 168.9 861.4 170.1 859.0 171.9C856.6 173.6 853.8 176.2 852.8 177.1" fill="none" stroke="#111" stroke-width="1.20" />
<path d="M872.5 233.4L879.7 241.3" fill="none" stroke="#111" stroke-width="1.20" />
<path d="M884.3 238.2C885.6 237.7 890.0 235.6 892.2 235.1C894.4 234.6 896.5 235.1 897.4 235.1" fill="none" stroke="#111" stroke-width="1.20" />
<path d="M908.8 126.3C909.3 128.5 910.3 135.8 911.9 139.7C913.4 143.7 917.1 148.4 918.1 150.1" fill="none" stroke="#111" stroke-width="1.20" />
<ellipse cx="859.6" cy="159.4" rx="3.5" ry="6.2" transform="rotate(8.0 859.6 159.4)" fill="none" stroke="#111" stroke-width="1.50"/>
<ellipse cx="859.6" cy="159.4" rx="2.3" ry="4.4" transform="rotate(8.0 859.6 159.4)" fill="none" stroke="#111" stroke-width="1.30"/>
<ellipse cx="917.9" cy="137.7" rx="3.1" ry="6.0" transform="rotate(5.0 917.9 137.7)" fill="none" stroke="#111" stroke-width="1.50"/>
<ellipse cx="917.9" cy="137.7" rx="1.9" ry="4.1" transform="rotate(5.0 917.9 137.7)" fill="none" stroke="#111" stroke-width="1.20"/>
<ellipse cx="889.3" cy="243.8" rx="2.9" ry="5.8" transform="rotate(8.0 889.3 243.8)" fill="none" stroke="#111" stroke-width="1.50"/>
<ellipse cx="889.3" cy="243.8" rx="1.7" ry="3.9" transform="rotate(8.0 889.3 243.8)" fill="none" stroke="#111" stroke-width="1.20"/>
<line x1="920.2" y1="94.1" x2="905.7" y2="124.2" stroke="#111" stroke-width="1.00"/>
<circle cx="902.5" cy="127.9" r="1.9" fill="#111"/>
<line x1="1001.6" y1="208.1" x2="995.2" y2="159.8" stroke="#111" stroke-width="1.00"/>
<line x1="1001.6" y1="208.1" x2="957.3" y2="186.6" stroke="#111" stroke-width="1.00"/>
<line x1="1001.6" y1="208.1" x2="967.2" y2="263.3" stroke="#111" stroke-width="1.00"/>
<path d="M659.1 268.0L665.3 277.7L623.8 370.4L617.2 360.6L659.1 268.0Z" fill="#fff" stroke="#111" stroke-width="1.60" />
<path d="M653.1 293.3L628.2 347.6" stroke="#111" stroke-width="3.8" fill="none" stroke-linecap="round"/>
<path d="M653.1 293.3L628.2 347.6" stroke="#fff" stroke-width="1.4" fill="none" stroke-linecap="round"/>
<ellipse cx="624.5" cy="356.5" rx="2.1" ry="3.9" transform="rotate(15.0 624.5 356.5)" fill="none" stroke="#111" stroke-width="1.30"/>
<circle cx="660.1" cy="277.1" r="2.0" fill="#111"/>
<path d="M732.6 232.7L739.9 243.5L697.4 335.8L691.2 325.4L732.6 232.7Z" fill="#fff" stroke="#111" stroke-width="1.60" />
<path d="M726.8 257.6L702.0 312.3" stroke="#111" stroke-width="3.8" fill="none" stroke-linecap="round"/>
<path d="M726.8 257.6L702.0 312.3" stroke="#fff" stroke-width="1.4" fill="none" stroke-linecap="round"/>
<ellipse cx="699.1" cy="321.2" rx="2.1" ry="3.9" transform="rotate(15.0 699.1 321.2)" fill="none" stroke="#111" stroke-width="1.30"/>
<circle cx="727.9" cy="250.2" r="2.0" fill="#111"/>
<line x1="689.1" y1="236.9" x2="662.2" y2="273.0" stroke="#111" stroke-width="1.00"/>
<line x1="689.1" y1="236.9" x2="726.8" y2="248.9" stroke="#111" stroke-width="1.00"/>
<line x1="732.6" y1="379.3" x2="747.6" y2="336.8" stroke="#111" stroke-width="1.00"/>
<line x1="732.6" y1="379.3" x2="681.2" y2="372.8" stroke="#111" stroke-width="1.00"/>
<!-- 50_cover_a.py -->
<path d="M374.5 297.7C377.9 299.3 390.9 304.8 394.8 307.8C398.8 310.8 398.2 313.0 398.3 315.6C398.4 318.2 396.8 321.6 395.6 323.4C394.4 325.3 391.7 326.0 390.9 326.6L371.4 316.4L374.5 297.7Z" fill="#fff" stroke="#111" stroke-width="1.60" />
<ellipse cx="372.2" cy="307.0" rx="5.2" ry="9.4" transform="rotate(-14.0 372.2 307.0)" fill="#fff" stroke="#111" stroke-width="2.40"/>
<ellipse cx="372.8" cy="307.2" rx="2.8" ry="6.2" transform="rotate(-14.0 372.8 307.2)" fill="none" stroke="#111" stroke-width="1.60"/>
<line x1="401.1" y1="265.6" x2="385.0" y2="302.8" stroke="#111" stroke-width="1.10"/>
<circle cx="384.7" cy="303.9" r="1.8" fill="#111"/>
<line x1="231.0" y1="227.5" x2="367.0" y2="300.0" stroke="#111" stroke-width="1.00" stroke-dasharray="16 4 3 4"/>
<path d="M440.2 308.1C439.8 309.4 440.0 312.3 437.8 315.6C435.6 319.0 429.7 324.9 426.9 328.1C424.0 331.4 422.6 333.7 420.6 335.2C418.7 336.6 417.0 335.3 415.2 336.7C413.3 338.2 411.1 340.6 409.7 343.8C408.3 346.9 407.1 353.5 406.6 355.5" fill="none" stroke="#111" stroke-width="1.60" />
<path d="M445.6 310.6C445.1 312.0 445.1 315.2 442.5 318.8C439.9 322.3 433.1 328.8 430.0 332.0C426.9 335.3 425.4 337.1 423.8 338.3C422.1 339.5 421.4 337.9 419.8 339.1C418.3 340.2 415.8 342.4 414.4 345.3C413.0 348.3 412.0 354.8 411.6 356.7" fill="none" stroke="#111" stroke-width="1.60" />
<path d="M467.5 320.3C467.1 321.9 467.2 325.8 465.2 329.7C463.1 333.6 458.1 339.7 455.0 343.8C451.9 347.8 448.9 351.7 446.4 353.9C443.9 356.1 441.6 355.5 440.2 357.0C438.7 358.6 438.2 362.2 437.8 363.3" fill="none" stroke="#111" stroke-width="1.60" />
<path d="M471.4 303.9C467.2 302.5 451.4 296.0 446.4 295.3C441.5 294.7 442.8 297.9 441.7 300.0C440.7 302.1 435.9 304.6 440.2 307.8C444.5 311.1 462.9 317.6 467.5 319.5" fill="#fff" stroke="#111" stroke-width="1.60" />
<ellipse cx="471.4" cy="313.3" rx="5.9" ry="9.7" transform="rotate(8.0 471.4 313.3)" fill="#fff" stroke="#111" stroke-width="1.80"/>
<ellipse cx="471.8" cy="313.5" rx="3.9" ry="7.4" transform="rotate(8.0 471.8 313.5)" fill="none" stroke="#111" stroke-width="2.10"/>
<ellipse cx="472.2" cy="313.5" rx="2.4" ry="5.3" transform="rotate(8.0 472.2 313.5)" fill="none" stroke="#111" stroke-width="1.00"/>
<path d="M433.1 362.5C428.7 361.3 411.7 355.7 406.6 355.5C401.4 355.2 403.0 358.7 402.2 360.9C401.4 363.2 397.5 365.6 401.9 368.8C406.2 371.9 424.0 377.9 428.4 379.7" fill="#fff" stroke="#111" stroke-width="1.60" />
<ellipse cx="431.9" cy="371.6" rx="5.6" ry="9.7" transform="rotate(8.0 431.9 371.6)" fill="#fff" stroke="#111" stroke-width="1.80"/>
<ellipse cx="432.3" cy="371.8" rx="3.7" ry="7.4" transform="rotate(8.0 432.3 371.8)" fill="none" stroke="#111" stroke-width="2.10"/>
<ellipse cx="432.7" cy="371.8" rx="2.2" ry="5.3" transform="rotate(8.0 432.7 371.8)" fill="none" stroke="#111" stroke-width="1.00"/>
<path d="M401.9 368.8C401.7 369.8 402.7 371.4 401.1 375.0C399.5 378.6 394.2 386.6 392.5 390.6C390.8 394.7 392.1 396.1 390.9 399.4C389.8 402.7 386.1 406.7 385.5 410.3C384.8 414.0 386.2 418.1 387.0 421.2C387.8 424.4 389.8 426.7 390.2 429.1C390.5 431.4 389.5 434.3 389.4 435.3" fill="none" stroke="#111" stroke-width="1.60" />
<path d="M408.1 374.2C406.8 377.1 402.9 386.8 400.3 391.6C397.7 396.3 394.1 398.9 392.5 402.5C390.9 406.1 391.1 409.8 390.9 413.4C390.8 417.1 391.5 421.2 391.7 424.4C392.0 427.5 392.6 430.1 392.5 432.2C392.4 434.3 391.5 436.1 391.2 436.9" fill="none" stroke="#111" stroke-width="1.60" />
<path d="M428.8 379.7C429.0 380.7 430.1 384.2 430.3 385.9C430.5 387.7 431.1 386.7 430.0 390.0C428.9 393.3 426.0 400.9 423.8 405.6C421.5 410.3 418.0 414.5 416.7 418.1C415.4 421.8 415.9 424.6 415.9 427.5C415.9 430.4 416.8 432.7 416.7 435.3C416.6 437.9 415.7 441.8 415.5 443.1" fill="none" stroke="#111" stroke-width="1.60" />
<path d="M473.1 295.3C473.6 294.3 474.9 290.5 476.2 289.1C477.6 287.6 478.6 286.6 480.9 286.7C483.3 286.8 486.5 288.2 490.3 289.8C494.1 291.5 500.7 294.7 503.6 296.9C506.5 299.1 506.0 301.8 507.5 303.1C509.0 304.4 511.8 303.7 512.5 304.7C513.2 305.7 512.7 307.8 511.9 309.1C511.0 310.4 508.6 312.3 507.5 312.5C506.4 312.7 506.1 310.9 505.2 310.2C504.2 309.4 503.2 307.4 502.0 307.8C500.9 308.2 499.6 310.7 498.1 312.5C496.7 314.3 494.7 316.7 493.4 318.8C492.1 320.8 492.7 324.0 490.3 325.0C488.0 326.0 482.1 325.5 479.4 325.0C476.6 324.5 474.8 322.4 473.9 321.9" fill="none" stroke="#111" stroke-width="1.60" />
<path d="M479.4 296.9C479.8 296.0 479.9 292.1 481.7 291.4C483.5 290.8 487.1 291.5 490.3 293.0C493.6 294.4 498.8 298.0 501.2 300.0C503.7 302.0 505.0 303.4 505.2 304.7C505.3 305.9 502.6 307.0 502.0 307.5" fill="none" stroke="#111" stroke-width="1.60" />
<path d="M493.4 318.8C493.7 318.0 492.9 314.3 495.0 314.1C497.1 313.8 503.6 318.0 505.9 317.2C508.3 316.4 508.5 310.7 509.1 309.4" fill="none" stroke="#111" stroke-width="1.60" />
<path d="M470.0 297.7C470.5 297.3 472.0 295.4 473.1 295.3C474.3 295.2 476.2 295.8 477.0 296.9C477.8 297.9 477.7 300.8 477.8 301.6" fill="none" stroke="#111" stroke-width="1.60" />
<path d="M495.0 291.4C496.4 290.0 499.9 285.1 503.6 283.1C507.2 281.2 513.2 280.1 516.9 279.7C520.6 279.3 524.3 280.5 525.8 280.6" fill="none" stroke="#111" stroke-width="1.60" />
<path d="M498.9 293.0C500.3 291.8 504.2 287.6 507.5 285.9C510.8 284.3 514.8 283.4 518.4 283.1C522.1 282.8 527.6 283.9 529.4 284.1" fill="none" stroke="#111" stroke-width="1.60" />
<path d="M549.7 289.8C552.6 291.0 561.9 294.9 566.9 296.9C571.8 298.8 575.7 299.2 579.4 301.6C583.0 303.9 586.1 307.9 588.8 310.9C591.4 313.9 593.2 316.9 595.0 319.5C596.8 322.1 598.9 325.4 599.7 326.6" fill="none" stroke="#111" stroke-width="1.60" />
<path d="M567.7 298.8C565.6 299.7 559.1 301.9 555.2 304.7C551.2 307.5 547.1 311.7 544.2 315.6C541.4 319.5 539.0 326.0 538.0 328.1" fill="none" stroke="#111" stroke-width="1.60" />
<path d="M579.4 303.9C577.0 304.4 569.5 304.8 565.3 307.0C561.1 309.2 557.2 313.2 554.4 317.2C551.5 321.2 549.7 327.2 548.1 331.2C546.5 335.3 545.3 339.7 544.7 341.4" fill="none" stroke="#111" stroke-width="1.60" />
<path d="M585.6 315.6C583.5 315.6 577.2 314.1 573.1 315.6C569.1 317.2 564.5 321.4 561.4 325.0C558.3 328.6 555.5 335.4 554.4 337.5" fill="none" stroke="#111" stroke-width="1.60" />
<path d="M588.8 319.5C586.9 319.7 581.5 318.6 577.8 320.3C574.2 322.0 569.5 326.7 566.9 329.7C564.3 332.7 563.0 336.8 562.2 338.3" fill="none" stroke="#111" stroke-width="1.60" />
<path d="M559.1 271.9C554.8 270.5 538.4 264.3 533.3 263.8C528.2 263.2 529.8 266.7 528.6 268.8C527.4 270.8 526.4 274.6 525.9 275.8C526.9 276.0 530.5 276.2 531.7 276.9C532.9 277.6 533.5 278.9 533.3 280.0C533.0 281.1 530.7 283.0 530.2 283.6L550.0 290.0" fill="#fff" stroke="#111" stroke-width="1.60" />
<path d="M525.9 275.8L525.5 280.6" fill="none" stroke="#111" stroke-width="1.60" />
<ellipse cx="557.8" cy="281.2" rx="5.9" ry="9.7" transform="rotate(8.0 557.8 281.2)" fill="#fff" stroke="#111" stroke-width="1.80"/>
<ellipse cx="558.2" cy="281.4" rx="3.9" ry="7.4" transform="rotate(8.0 558.2 281.4)" fill="none" stroke="#111" stroke-width="2.10"/>
<ellipse cx="558.6" cy="281.4" rx="2.4" ry="5.3" transform="rotate(8.0 558.6 281.4)" fill="none" stroke="#111" stroke-width="1.00"/>
<path d="M529.7 327.7L493.4 315.6" fill="none" stroke="#111" stroke-width="1.60" />
<path d="M527.0 345.3C526.2 344.1 528.2 341.4 522.3 338.3C516.5 335.2 497.0 328.8 491.9 326.9" fill="none" stroke="#111" stroke-width="1.60" />
<path d="M538.0 328.1C538.5 329.2 540.2 332.6 541.1 334.4C542.0 336.2 543.8 337.8 543.4 339.1C543.0 340.4 539.5 341.7 538.8 342.2" fill="none" stroke="#111" stroke-width="1.60" />
<path d="M490.3 325.0C490.2 325.7 491.4 328.0 489.5 328.9C487.7 329.8 482.6 329.6 479.4 330.5C476.1 331.4 471.6 333.7 470.0 334.4" fill="none" stroke="#111" stroke-width="1.60" />
<path d="M563.8 337.5C567.3 333.3 572.1 327.5 576.2 325.0C580.4 322.5 584.6 321.6 588.8 322.7C592.9 323.7 597.9 327.2 601.2 331.2C604.6 335.3 607.2 340.6 609.1 346.9C610.9 353.1 611.8 361.5 612.2 368.8C612.6 376.0 611.7 387.1 611.4 390.6C611.1 394.2 612.1 386.2 610.6 390.0C609.2 393.8 605.7 406.9 602.8 413.4C599.9 419.9 596.8 425.2 593.4 429.1C590.1 433.0 586.1 436.1 582.5 436.9C578.9 437.7 575.2 435.8 571.6 433.8C567.9 431.7 563.8 428.5 560.6 424.4C557.5 420.2 554.6 414.5 552.8 408.8C551.0 403.0 550.3 393.5 549.7 390.0C549.0 386.5 548.9 391.0 548.9 387.5C548.9 384.0 548.6 375.0 549.7 368.8C550.7 362.5 552.8 355.2 555.2 350.0C557.5 344.8 560.2 341.7 563.8 337.5Z" fill="none" stroke="#111" stroke-width="1.60" />
<path d="M566.9 340.6C570.0 337.0 574.2 331.9 577.8 329.7C581.5 327.5 585.4 326.6 588.8 327.3C592.1 328.1 595.4 330.6 598.1 334.4C600.9 338.2 603.6 344.3 605.2 350.0C606.7 355.7 607.2 362.0 607.5 368.8C607.8 375.5 607.1 387.1 606.9 390.6C606.6 394.2 607.1 386.7 605.9 390.0C604.7 393.3 602.0 404.5 599.7 410.3C597.3 416.2 594.7 421.6 591.9 425.2C589.0 428.8 585.4 431.1 582.5 431.9C579.6 432.7 577.6 431.6 574.7 429.8C571.8 428.1 568.2 425.0 565.3 421.2C562.4 417.5 559.3 412.4 557.5 407.2C555.7 402.0 555.1 393.3 554.4 390.0C553.6 386.7 553.1 391.0 553.1 387.5C553.1 384.0 553.4 374.7 554.4 368.8C555.4 362.8 557.0 356.2 559.1 351.6C561.1 346.9 563.8 344.3 566.9 340.6Z" fill="none" stroke="#111" stroke-width="1.60" />
<path d="M599.7 326.6C600.7 327.1 603.7 328.9 605.9 329.7C608.2 330.5 611.4 329.9 613.0 331.2C614.6 332.6 615.4 334.9 615.6 337.5C615.8 340.1 614.9 344.4 614.1 346.9C613.2 349.3 610.9 351.4 610.3 352.3" fill="none" stroke="#111" stroke-width="1.60" />
<ellipse cx="609.5" cy="339.1" rx="2.7" ry="5.3" transform="rotate(8.0 609.5 339.1)" fill="none" stroke="#111" stroke-width="1.80"/>
<path d="M563.8 337.5C562.3 338.9 557.8 343.5 555.2 346.1C552.6 348.7 549.6 350.4 548.1 353.1C546.6 355.9 546.3 359.6 546.2 362.5C546.2 365.4 547.2 368.2 547.8 370.3C548.4 372.4 549.6 374.2 550.0 375.0" fill="none" stroke="#111" stroke-width="1.60" />
<ellipse cx="552.3" cy="360.2" rx="2.7" ry="5.6" transform="rotate(8.0 552.3 360.2)" fill="none" stroke="#111" stroke-width="1.80"/>
<path d="M571.6 434.5C571.8 435.7 572.1 438.6 573.1 441.6C574.1 444.6 575.8 450.4 577.5 452.5C579.2 454.6 581.6 455.2 583.3 454.4C584.9 453.6 586.5 450.8 587.5 447.8C588.5 444.8 588.8 438.2 589.1 436.2" fill="#fff" stroke="#111" stroke-width="1.60" />
<ellipse cx="581.4" cy="444.7" rx="3.0" ry="5.6" transform="rotate(8.0 581.4 444.7)" fill="none" stroke="#111" stroke-width="1.80"/>
<path d="M538.8 342.2C538.2 343.8 536.0 348.2 535.6 351.6C535.2 354.9 535.9 358.6 536.4 362.5C536.9 366.4 538.4 370.8 538.8 375.0C539.1 379.2 537.7 383.3 538.4 387.5C539.2 391.7 542.6 397.9 543.4 400.0" fill="none" stroke="#111" stroke-width="1.60" />
<path d="M546.2 343.8C545.8 344.8 543.6 346.9 543.4 350.0C543.2 353.1 544.2 358.6 545.0 362.5C545.8 366.4 547.6 371.6 548.1 373.4" fill="none" stroke="#111" stroke-width="1.60" />
<ellipse cx="532.5" cy="337.2" rx="5.9" ry="10.2" transform="rotate(8.0 532.5 337.2)" fill="#fff" stroke="#111" stroke-width="1.80"/>
<ellipse cx="532.9" cy="337.4" rx="3.9" ry="7.7" transform="rotate(8.0 532.9 337.4)" fill="none" stroke="#111" stroke-width="2.10"/>
<ellipse cx="533.3" cy="337.4" rx="2.4" ry="5.6" transform="rotate(8.0 533.3 337.4)" fill="none" stroke="#111" stroke-width="1.00"/>
<path d="M515.3 357.8L470.0 342.2" fill="none" stroke="#111" stroke-width="1.60" />
<path d="M513.8 376.9C509.8 375.6 495.0 371.4 490.3 369.1C485.6 366.7 486.4 363.9 485.6 362.8" fill="none" stroke="#111" stroke-width="1.60" />
<ellipse cx="517.7" cy="367.2" rx="5.9" ry="9.7" transform="rotate(8.0 517.7 367.2)" fill="#fff" stroke="#111" stroke-width="1.80"/>
<ellipse cx="518.1" cy="367.4" rx="3.9" ry="7.4" transform="rotate(8.0 518.1 367.4)" fill="none" stroke="#111" stroke-width="2.10"/>
<ellipse cx="518.5" cy="367.4" rx="2.4" ry="5.3" transform="rotate(8.0 518.5 367.4)" fill="none" stroke="#111" stroke-width="1.00"/>
<path d="M470.6 325.0C469.8 326.6 467.2 331.8 465.9 334.4C464.6 337.0 462.6 338.5 462.8 340.6C463.1 342.7 465.9 345.3 467.5 346.9C469.1 348.4 471.0 348.4 472.2 350.0C473.4 351.6 475.3 353.1 474.5 356.2C473.8 359.4 469.7 365.1 467.5 368.8C465.3 372.4 462.0 376.0 461.2 378.1C460.5 380.2 459.7 379.7 462.8 381.2C465.9 382.8 476.0 386.9 480.0 387.5C484.0 388.1 485.2 386.8 487.0 384.7C488.9 382.6 490.3 376.6 490.9 375.0" fill="none" stroke="#111" stroke-width="1.60" />
<path d="M474.5 356.2C476.0 356.6 480.8 357.2 483.1 358.6C485.5 360.0 487.2 362.4 488.6 364.8C490.0 367.3 491.2 372.0 491.7 373.4" fill="none" stroke="#111" stroke-width="1.60" />
<ellipse cx="476.9" cy="370.3" rx="5.2" ry="8.6" transform="rotate(8.0 476.9 370.3)" fill="none" stroke="#111" stroke-width="1.60"/>
<path d="M470.0 351.6C471.6 352.6 476.8 355.5 479.4 357.8C482.0 360.2 484.1 362.8 485.6 365.6C487.1 368.5 488.8 371.7 488.4 375.0C488.0 378.3 485.6 383.5 483.3 385.6C481.0 387.8 477.4 387.8 474.7 387.8C472.0 387.9 468.2 386.2 466.9 385.9" fill="none" stroke="#111" stroke-width="1.60" />
<path d="M498.1 427.5C501.8 421.2 515.1 398.8 520.0 390.0C524.9 381.2 525.5 375.0 527.8 375.0C530.2 375.0 528.6 377.1 534.1 390.0C539.5 402.9 556.2 442.1 560.6 452.5" fill="none" stroke="#111" stroke-width="1.60" />
<path d="M495.8 426.2C499.0 420.2 510.0 397.6 515.3 390.0C520.7 382.4 523.9 380.7 527.8 380.9C531.7 381.2 532.8 380.0 538.8 391.6C544.7 403.1 559.2 440.4 563.3 450.2" fill="none" stroke="#111" stroke-width="1.60" />
<ellipse cx="446.4" cy="394.1" rx="5.5" ry="8.8" transform="rotate(8.0 446.4 394.1)" fill="#fff" stroke="#111" stroke-width="1.80"/>
<ellipse cx="446.8" cy="394.3" rx="3.3" ry="6.0" transform="rotate(8.0 446.8 394.3)" fill="none" stroke="#111" stroke-width="2.10"/>
<!-- 51_cover_b.py -->
<path d="M408.9 442.8C404.9 441.8 389.4 436.9 384.7 436.6C380.0 436.2 381.6 438.6 380.8 440.8C380.0 442.9 380.7 444.8 380.0 449.4C379.3 453.9 378.2 461.9 376.9 468.1C375.6 474.4 373.8 480.6 372.2 486.9C370.6 493.1 368.5 500.9 367.5 505.6C366.5 510.3 367.0 512.7 365.9 515.0C364.9 517.3 362.3 517.6 361.2 519.7C360.2 521.8 360.1 524.1 359.7 527.5C359.3 530.9 359.0 537.9 358.9 540.0" fill="none" stroke="#111" stroke-width="1.60" />
<path d="M398.8 447.0C399.1 448.7 399.8 454.9 401.1 457.2C402.4 459.5 405.7 460.1 406.6 460.6" fill="none" stroke="#111" stroke-width="1.60" />
<path d="M383.9 440.0C386.2 441.1 395.5 444.5 398.0 446.6C400.4 448.6 398.9 449.7 398.8 452.5C398.6 455.3 397.6 459.8 397.2 463.4C396.8 467.1 396.5 472.6 396.4 474.4" fill="none" stroke="#111" stroke-width="1.60" />
<path d="M406.6 460.6L405.0 477.5" fill="none" stroke="#111" stroke-width="1.60" />
<ellipse cx="410.5" cy="450.9" rx="5.5" ry="8.8" transform="rotate(8.0 410.5 450.9)" fill="#fff" stroke="#111" stroke-width="1.80"/>
<ellipse cx="410.9" cy="451.1" rx="3.6" ry="6.7" transform="rotate(8.0 410.9 451.1)" fill="none" stroke="#111" stroke-width="2.10"/>
<ellipse cx="411.3" cy="451.1" rx="2.2" ry="4.8" transform="rotate(8.0 411.3 451.1)" fill="none" stroke="#111" stroke-width="1.00"/>
<path d="M444.8 411.9L492.5 424.1" fill="none" stroke="#111" stroke-width="1.60" />
<path d="M444.8 411.9C444.2 412.4 442.2 412.5 441.2 415.0C440.3 417.5 439.7 424.8 439.4 426.7" fill="none" stroke="#111" stroke-width="1.60" />
<path d="M439.4 426.7L484.7 438.8L489.4 429.8" fill="none" stroke="#111" stroke-width="1.60" />
<path d="M439.4 427.5C438.3 430.4 435.7 438.7 433.1 444.7C430.5 450.7 426.7 457.2 423.8 463.4C420.8 469.7 417.0 479.1 415.6 482.2" fill="none" stroke="#111" stroke-width="1.60" />
<path d="M441.2 430.9L469.1 442.8C469.3 444.0 471.1 446.5 470.6 450.2C470.1 453.9 468.5 458.4 465.9 465.0C463.3 471.6 457.6 483.2 455.0 490.0C452.4 496.8 451.4 503.0 450.6 505.6" fill="none" stroke="#111" stroke-width="1.60" />
<path d="M441.2 430.9C440.2 433.5 437.7 440.3 435.0 446.2C432.3 452.2 428.2 460.3 425.3 466.6C422.4 472.8 418.8 480.9 417.5 483.8" fill="none" stroke="#111" stroke-width="1.60" />
<path d="M484.7 438.8C483.9 441.6 482.3 448.6 480.0 455.6C477.7 462.6 473.5 472.8 470.6 480.6C467.8 488.4 465.0 495.2 462.8 502.5C460.6 509.8 458.6 518.1 457.3 524.4C456.0 530.6 455.4 537.4 455.0 540.0" fill="none" stroke="#111" stroke-width="1.60" />
<path d="M490.0 441.6C489.0 444.7 486.5 453.3 483.9 460.3C481.3 467.3 477.3 476.2 474.5 483.8C471.7 491.3 469.4 498.3 467.2 505.6C465.0 512.9 462.6 521.8 461.2 527.5C459.9 533.2 459.7 537.9 459.4 540.0" fill="none" stroke="#111" stroke-width="1.60" />
<path d="M473.8 482.2L487.8 508.8L476.1 490.0L473.8 482.2Z" fill="none" stroke="#111" stroke-width="1.60" />
<path d="M389.4 474.4C392.0 475.4 400.8 478.5 405.0 480.6C409.2 482.7 412.0 484.0 414.4 486.9C416.8 489.7 418.3 493.4 419.4 497.8C420.5 502.2 420.2 509.3 420.9 513.4C421.7 517.6 424.2 520.5 424.1 522.8C424.0 525.1 420.9 526.5 420.3 527.2L389.4 519.7L383.1 513.4" fill="#fff" stroke="#111" stroke-width="1.60" />
<ellipse cx="394.8" cy="499.4" rx="14.1" ry="19.5" transform="rotate(8.0 394.8 499.4)" fill="#fff" stroke="#111" stroke-width="1.60"/>
<ellipse cx="395.6" cy="499.4" rx="12.2" ry="17.7" transform="rotate(8.0 395.6 499.4)" fill="none" stroke="#111" stroke-width="1.30"/>
<ellipse cx="397.5" cy="499.7" rx="8.6" ry="15.0" transform="rotate(8.0 397.5 499.7)" fill="none" stroke="#111" stroke-width="1.60"/>
<path d="M392.5 490.0C392.1 491.6 390.3 496.2 390.2 499.4C390.0 502.5 390.8 506.3 391.7 508.8C392.6 511.2 395.0 513.3 395.6 514.2" fill="none" stroke="#111" stroke-width="1.20" />
<ellipse cx="408.9" cy="510.3" rx="3.8" ry="5.9" transform="rotate(8.0 408.9 510.3)" fill="none" stroke="#111" stroke-width="1.70"/>
<path d="M389.4 519.7C388.6 518.9 386.0 517.3 384.7 515.0C383.4 512.7 382.2 508.5 381.6 505.6C380.9 502.8 380.9 499.1 380.8 497.8" fill="none" stroke="#111" stroke-width="1.60" />
<path d="M417.5 496.2L445.9 506.4" fill="none" stroke="#111" stroke-width="1.60" />
<path d="M420.9 520.0L442.8 526.2" fill="none" stroke="#111" stroke-width="1.60" />
<ellipse cx="448.0" cy="515.8" rx="5.5" ry="9.7" transform="rotate(8.0 448.0 515.8)" fill="#fff" stroke="#111" stroke-width="1.80"/>
<ellipse cx="448.4" cy="516.0" rx="3.6" ry="7.4" transform="rotate(8.0 448.4 516.0)" fill="none" stroke="#111" stroke-width="2.10"/>
<ellipse cx="448.8" cy="516.0" rx="2.2" ry="5.3" transform="rotate(8.0 448.8 516.0)" fill="none" stroke="#111" stroke-width="1.00"/>
<path d="M367.5 505.9L382.3 512.2" fill="none" stroke="#111" stroke-width="1.60" />
<path d="M365.9 515.0L384.7 520.5" fill="none" stroke="#111" stroke-width="1.60" />
<ellipse cx="390.2" cy="534.5" rx="4.7" ry="7.8" transform="rotate(8.0 390.2 534.5)" fill="#fff" stroke="#111" stroke-width="1.80"/>
<ellipse cx="390.6" cy="534.7" rx="2.8" ry="5.2" transform="rotate(8.0 390.6 534.7)" fill="none" stroke="#111" stroke-width="2.10"/>
<ellipse cx="493.4" cy="436.9" rx="5.9" ry="9.4" transform="rotate(8.0 493.4 436.9)" fill="#fff" stroke="#111" stroke-width="1.80"/>
<ellipse cx="493.8" cy="437.1" rx="3.1" ry="5.4" transform="rotate(8.0 493.8 437.1)" fill="none" stroke="#111" stroke-width="2.10"/>
<path d="M470.0 419.7L496.9 427.8" fill="none" stroke="#111" stroke-width="1.60" />
<path d="M470.0 435.6L486.4 440.3" fill="none" stroke="#111" stroke-width="1.60" />
<path d="M487.5 443.9L470.0 477.5" fill="none" stroke="#111" stroke-width="1.60" />
<path d="M491.9 446.6L472.3 483.8" fill="none" stroke="#111" stroke-width="1.60" />
<ellipse cx="564.8" cy="458.8" rx="5.9" ry="9.4" transform="rotate(8.0 564.8 458.8)" fill="#fff" stroke="#111" stroke-width="1.80"/>
<ellipse cx="565.2" cy="458.9" rx="3.3" ry="5.8" transform="rotate(8.0 565.2 458.9)" fill="none" stroke="#111" stroke-width="2.10"/>
<path d="M559.1 440.0C561.1 440.7 568.4 441.8 571.6 443.9C574.7 446.0 576.8 451.1 577.8 452.5" fill="none" stroke="#111" stroke-width="1.60" />
<path d="M559.8 447.8C561.5 448.2 566.7 448.9 570.0 450.2C573.3 451.5 577.8 454.7 579.4 455.6" fill="none" stroke="#111" stroke-width="1.60" />
<path d="M587.2 451.2L595.0 452.8" fill="none" stroke="#111" stroke-width="1.60" />
<path d="M579.4 455.6C580.5 457.7 584.6 464.5 586.4 468.1C588.2 471.8 589.7 475.9 590.3 477.5" fill="none" stroke="#111" stroke-width="1.60" />
<ellipse cx="594.2" cy="462.7" rx="5.5" ry="8.6" transform="rotate(8.0 594.2 462.7)" fill="#fff" stroke="#111" stroke-width="1.80"/>
<ellipse cx="594.6" cy="462.9" rx="3.0" ry="5.3" transform="rotate(8.0 594.6 462.9)" fill="none" stroke="#111" stroke-width="2.10"/>
<path d="M498.8 432.3L505.4 486.9L505.9 486.8L500.6 432.1L498.8 432.3Z" fill="none" stroke="#111" stroke-width="1.25" />
<path d="M535.3 406.1L525.3 483.4L526.2 483.5L539.0 406.7L535.3 406.1Z" fill="none" stroke="#111" stroke-width="1.25" />
<path d="M553.3 466.9L541.8 498.1L542.6 498.5L557.0 468.4L553.3 466.9Z" fill="none" stroke="#111" stroke-width="1.25" />
<path d="M569.8 512.1L551.3 530.0L551.9 530.7L572.7 515.4L569.8 512.1Z" fill="none" stroke="#111" stroke-width="1.25" />
<path d="M471.1 482.8L486.8 510.2L487.5 509.8L473.6 481.5L471.1 482.8Z" fill="none" stroke="#111" stroke-width="1.25" />
<path d="M570.0 468.1C571.3 470.7 575.9 477.0 577.8 483.8C579.7 490.5 580.6 499.4 581.2 508.8C581.9 518.1 582.0 532.6 581.7 540.0C581.4 547.4 580.0 548.3 579.4 553.4C578.7 558.5 578.5 564.1 577.8 570.6C577.1 577.1 576.3 587.0 575.0 592.5C573.7 598.0 571.8 599.8 570.0 603.4C568.2 607.1 565.6 610.5 564.1 614.4C562.6 618.3 562.8 621.7 560.9 626.9C559.1 632.1 556.2 639.4 552.8 645.6C549.4 651.9 542.7 661.5 540.3 664.4C538.0 667.2 541.4 661.0 538.8 662.8C536.1 664.6 529.6 672.2 524.7 675.3C519.7 678.4 514.3 680.8 509.1 681.6C503.9 682.3 498.4 681.6 493.4 680.0C488.5 678.4 483.3 675.6 479.4 672.2C475.5 668.8 469.9 659.4 470.0 659.7C470.1 659.9 479.9 673.2 480.0 673.8C480.1 674.3 473.5 667.2 470.6 662.8C467.8 658.4 464.1 649.8 462.8 647.2" fill="none" stroke="#111" stroke-width="1.60" />
<path d="M565.6 468.1C567.1 470.7 572.3 477.0 574.4 483.8C576.5 490.5 577.4 499.4 578.1 508.8C578.9 518.1 579.2 532.6 578.9 540.0C578.6 547.4 577.0 548.3 576.2 553.4C575.5 558.5 575.4 564.1 574.7 570.6C574.0 577.1 573.2 587.0 571.9 592.5C570.6 598.0 568.6 599.9 566.9 603.4C565.1 607.0 562.9 609.9 561.4 613.6C559.9 617.2 559.7 620.4 557.8 625.3C555.9 630.3 553.3 637.3 550.0 643.3C546.7 649.3 540.3 658.5 538.1 661.2C536.0 664.0 539.7 658.0 537.2 659.7C534.7 661.4 527.8 668.5 523.1 671.4C518.4 674.3 513.8 676.1 509.1 676.9C504.4 677.7 499.7 677.7 495.0 676.1C490.3 674.5 485.1 671.3 480.9 667.5C476.8 663.7 469.8 653.2 470.0 653.4C470.2 653.7 481.8 668.0 482.3 669.1C482.8 670.1 475.8 663.6 473.0 659.7C470.2 655.8 466.8 648.0 465.6 645.6" fill="none" stroke="#111" stroke-width="1.60" />
<path d="M579.4 455.6C580.9 459.3 585.9 471.8 588.8 477.5C591.6 483.2 594.4 485.8 596.6 490.0C598.7 494.2 600.4 498.3 601.6 502.5C602.8 506.7 603.5 510.3 603.8 515.0C604.0 519.7 603.4 526.8 602.8 530.6C602.2 534.4 600.5 536.5 600.0 537.7" fill="none" stroke="#111" stroke-width="1.60" />
<path d="M579.4 513.4L593.8 516.9" fill="none" stroke="#111" stroke-width="1.60" />
<path d="M580.2 530.6L588.8 533.0" fill="none" stroke="#111" stroke-width="1.60" />
<ellipse cx="591.9" cy="525.2" rx="4.7" ry="7.8" transform="rotate(8.0 591.9 525.2)" fill="#fff" stroke="#111" stroke-width="1.80"/>
<ellipse cx="592.3" cy="525.4" rx="2.3" ry="4.5" transform="rotate(8.0 592.3 525.4)" fill="none" stroke="#111" stroke-width="2.10"/>
<path d="M580.3 522.8L583.8 523.8L583.4 528.3L580.3 527.5L580.3 522.8Z" fill="none" stroke="#111" stroke-width="1.20" />
<ellipse cx="606.2" cy="539.7" rx="4.7" ry="7.0" transform="rotate(8.0 606.2 539.7)" fill="#fff" stroke="#111" stroke-width="1.80"/>
<ellipse cx="606.6" cy="539.9" rx="2.6" ry="4.2" transform="rotate(8.0 606.6 539.9)" fill="none" stroke="#111" stroke-width="2.10"/>
<ellipse cx="512.9" cy="556.3" rx="36.3" ry="71.2" transform="rotate(4 512.9 556.3)" fill="#fff" stroke="#111" stroke-width="1.6"/>
<path d="M519.9 491.1C521.2 490.0 523.6 489.3 525.2 489.7C526.8 490.2 528.8 491.8 529.6 493.8C530.4 495.8 529.1 498.9 530.1 501.7C531.2 504.5 533.7 506.1 535.8 510.5C537.9 514.9 541.2 521.7 542.8 528.1C544.4 534.6 545.2 542.5 545.5 549.3C545.7 556.0 544.9 562.8 544.2 568.7C543.6 574.6 542.1 580.4 541.4 584.5C540.7 588.6 540.7 590.6 540.2 593.3C539.7 596.1 539.6 599.4 538.4 601.3C537.2 603.2 534.9 604.5 533.1 604.8C531.4 605.1 530.0 602.3 527.8 603.0C525.6 603.8 522.7 607.9 519.9 609.2C517.1 610.5 514.0 611.6 511.1 611.0C508.2 610.4 505.1 608.6 502.3 605.7C499.5 602.7 496.6 596.6 494.4 593.3C492.2 590.1 490.8 587.6 489.1 586.3C487.3 585.0 485.5 586.3 483.8 585.4C482.1 584.5 479.9 582.9 479.0 581.0C478.1 579.1 478.0 576.0 478.5 574.0C479.0 571.9 480.7 570.1 482.0 568.7C483.3 567.2 485.7 568.4 486.4 565.2C487.2 561.9 485.8 554.9 486.4 549.3C487.0 543.7 488.2 537.0 490.0 531.7C491.7 526.4 494.4 521.5 497.0 517.6C499.6 513.6 502.9 510.2 505.8 507.9C508.8 505.5 512.7 505.4 514.6 503.5C516.5 501.6 516.4 498.5 517.3 496.4C518.1 494.4 518.6 492.3 519.9 491.1Z" fill="#fff" stroke="#111" stroke-width="1.60" />
<ellipse cx="523.8" cy="498.2" rx="2.3" ry="4.1" transform="rotate(8.0 523.8 498.2)" fill="none" stroke="#111" stroke-width="2.00"/>
<ellipse cx="483.8" cy="577.5" rx="2.3" ry="4.1" transform="rotate(8.0 483.8 577.5)" fill="none" stroke="#111" stroke-width="2.00"/>
<ellipse cx="534.4" cy="595.1" rx="2.3" ry="4.1" transform="rotate(8.0 534.4 595.1)" fill="none" stroke="#111" stroke-width="2.00"/>
<ellipse cx="515.0" cy="557.2" rx="22.8" ry="45.3" transform="rotate(4 515 557.2)" fill="none" stroke="#111" stroke-width="1.50"/>
<ellipse cx="515.0" cy="557.2" rx="21.0" ry="43.3" transform="rotate(4 515 557.2)" fill="none" stroke="#111" stroke-width="1.30"/>
<path d="M511.1 520.2C509.6 523.6 504.2 532.7 502.3 540.5C500.4 548.3 499.4 558.7 499.6 566.9C499.9 575.1 501.9 584.0 504.1 589.8C506.3 595.6 511.4 599.8 512.9 601.8" fill="none" stroke="#111" stroke-width="1.30" />
<path d="M515.0 521.1C513.6 524.9 508.3 536.1 506.5 544.0C504.7 551.9 503.7 560.7 504.1 568.7C504.4 576.6 506.3 586.2 508.5 591.6C510.6 596.9 515.4 599.2 516.7 600.7" fill="none" stroke="#111" stroke-width="1.30" />
<path d="M551.0 571.2L569.4 577.1L570.6 573.5L552.1 567.6L551.0 571.2Z" fill="none" stroke="#111" stroke-width="1.25" />
<path d="M537.8 605.9L549.0 628.6L551.0 627.7L540.3 604.7L537.8 605.9Z" fill="none" stroke="#111" stroke-width="1.25" />
<path d="M519.1 627.3L524.4 671.4L525.0 671.4L521.6 627.1L519.1 627.3Z" fill="none" stroke="#111" stroke-width="1.25" />
<path d="M499.3 630.4L488.8 670.5L489.4 670.7L501.7 631.1L499.3 630.4Z" fill="none" stroke="#111" stroke-width="1.25" />
<path d="M482.7 615.0L469.7 640.0L470.3 640.3L484.8 616.2L482.7 615.0Z" fill="none" stroke="#111" stroke-width="1.25" />
<path d="M470.0 542.2C471.2 542.6 477.0 543.9 477.0 544.4C477.0 544.9 471.2 545.2 470.0 545.3" fill="none" stroke="#111" stroke-width="1.20" />
<path d="M470.0 591.7C471.3 592.1 476.2 595.4 477.8 594.1C479.4 592.8 479.4 585.6 479.7 583.9" fill="none" stroke="#111" stroke-width="1.60" />
<path d="M470.0 608.9C472.6 609.3 481.5 608.8 485.6 611.2C489.8 613.7 493.4 621.7 495.0 623.8" fill="none" stroke="#111" stroke-width="1.60" />
<ellipse cx="573.4" cy="603.4" rx="5.9" ry="9.1" transform="rotate(8.0 573.4 603.4)" fill="#fff" stroke="#111" stroke-width="1.80"/>
<ellipse cx="573.8" cy="603.6" rx="3.0" ry="5.3" transform="rotate(8.0 573.8 603.6)" fill="none" stroke="#111" stroke-width="2.10"/>
<ellipse cx="566.9" cy="625.3" rx="3.8" ry="6.6" transform="rotate(8.0 566.9 625.3)" fill="#fff" stroke="#111" stroke-width="1.80"/>
<ellipse cx="557.8" cy="637.8" rx="5.9" ry="9.4" transform="rotate(8.0 557.8 637.8)" fill="#fff" stroke="#111" stroke-width="1.80"/>
<ellipse cx="558.2" cy="638.0" rx="3.0" ry="5.4" transform="rotate(8.0 558.2 638.0)" fill="none" stroke="#111" stroke-width="2.10"/>
<path d="M601.6 534.7C600.5 538.1 597.1 548.5 595.0 555.0C592.9 561.5 591.3 567.5 588.8 573.8C586.2 580.0 581.6 588.7 579.7 592.5C577.7 596.3 577.5 595.8 577.0 596.4" fill="none" stroke="#111" stroke-width="1.60" />
<ellipse cx="605.9" cy="545.6" rx="5.6" ry="8.8" transform="rotate(8.0 605.9 545.6)" fill="#fff" stroke="#111" stroke-width="1.80"/>
<ellipse cx="606.3" cy="545.8" rx="3.1" ry="5.4" transform="rotate(8.0 606.3 545.8)" fill="none" stroke="#111" stroke-width="2.10"/>
<path d="M579.4 530.0C579.9 530.9 580.2 534.4 582.5 535.5C584.8 536.5 590.4 536.8 593.4 536.2C596.4 535.7 599.3 533.0 600.5 532.3" fill="none" stroke="#111" stroke-width="1.60" />
<ellipse cx="591.1" cy="530.8" rx="3.4" ry="4.4" transform="rotate(0.0 591.1 530.8)" fill="none" stroke="#111" stroke-width="1.60"/>
<path d="M552.8 648.8C553.6 649.3 557.2 649.8 557.5 652.2C557.8 654.5 556.4 661.3 554.4 662.8C552.3 664.3 546.8 661.5 545.3 661.2" fill="none" stroke="#111" stroke-width="1.60" />
<!-- 52_cover_c.py -->
<path d="M358.9 530.0C358.8 531.6 359.6 536.9 358.1 539.4C356.7 541.8 352.5 543.3 350.3 544.8C348.1 546.4 345.9 547.1 344.8 548.8C343.8 550.4 344.2 554.0 344.1 555.0C345.6 555.9 350.7 559.2 353.4 560.5C356.2 561.8 359.3 562.4 360.5 562.8L359.7 581.6C357.3 581.7 348.9 581.8 345.6 582.3C342.4 582.9 341.1 583.0 340.2 584.7C339.2 586.4 338.7 590.4 340.2 592.5C341.6 594.6 347.1 594.6 348.8 597.2C350.4 599.8 349.8 604.7 350.3 608.1C350.8 611.5 352.4 615.4 351.9 617.5C351.4 619.6 348.2 619.1 347.2 620.6C346.1 622.2 346.7 624.3 345.6 626.9C344.6 629.5 342.1 633.1 340.9 636.2C339.8 639.4 338.3 642.2 338.6 645.6C338.9 649.0 341.1 654.2 342.5 656.6C343.9 658.9 346.3 657.3 347.2 659.7C348.1 662.0 347.8 668.3 348.0 670.6C348.1 673.0 347.3 670.1 348.0 673.8C348.6 677.4 350.4 686.8 351.9 692.5C353.3 698.2 355.5 703.4 356.6 708.1C357.6 712.8 357.3 717.8 358.1 720.6C358.9 723.5 358.9 723.8 361.2 725.3C363.6 726.9 370.4 729.2 372.2 730.0C372.7 731.0 373.2 734.8 375.3 736.2C377.4 737.7 382.1 738.6 384.7 738.6C387.3 738.6 389.6 738.1 390.9 736.2C392.2 734.4 392.2 729.1 392.5 727.7" fill="none" stroke="#111" stroke-width="1.60" />
<path d="M348.8 597.2C349.5 597.7 352.4 598.0 353.4 600.3C354.5 602.7 355.0 608.1 355.0 611.2C355.0 614.4 353.7 617.8 353.4 619.1" fill="none" stroke="#111" stroke-width="1.60" />
<path d="M348.8 597.5C352.7 598.1 367.5 601.4 372.2 601.1C376.9 600.8 376.1 596.5 376.9 595.6" fill="none" stroke="#111" stroke-width="1.60" />
<path d="M453.4 530.0C452.9 535.2 450.7 550.8 450.3 561.2C449.9 571.7 450.3 583.1 451.1 592.5C451.9 601.9 453.6 611.0 455.0 617.5C456.4 624.0 458.9 629.2 459.7 631.6" fill="none" stroke="#111" stroke-width="1.60" />
<path d="M456.9 530.0C456.4 535.2 454.1 550.8 453.8 561.2C453.4 571.7 453.8 583.1 454.5 592.5C455.3 601.9 457.0 611.2 458.4 617.5C459.9 623.8 462.3 627.9 463.1 630.0" fill="none" stroke="#111" stroke-width="1.60" />
<path d="M360.5 536.2L384.7 543.3" fill="none" stroke="#111" stroke-width="1.60" />
<path d="M390.2 539.4L388.6 551.9" fill="none" stroke="#111" stroke-width="1.60" />
<ellipse cx="390.2" cy="533.1" rx="4.4" ry="6.6" transform="rotate(8.0 390.2 533.1)" fill="#fff" stroke="#111" stroke-width="1.80"/>
<ellipse cx="390.6" cy="533.3" rx="2.4" ry="4.1" transform="rotate(8.0 390.6 533.3)" fill="none" stroke="#111" stroke-width="2.10"/>
<path d="M437.8 562.8C430.3 561.0 400.8 553.4 392.5 551.9C384.2 550.3 389.9 551.1 387.8 553.4C385.7 555.8 381.8 561.0 380.0 565.9C378.2 570.9 377.3 578.2 376.9 583.1C376.5 588.1 376.6 592.0 377.7 595.6C378.7 599.3 372.8 601.1 383.1 605.0C393.4 608.9 430.0 616.7 439.4 619.1" fill="none" stroke="#111" stroke-width="1.60" />
<path d="M437.8 562.8L442.8 530.0" fill="none" stroke="#111" stroke-width="1.60" />
<path d="M446.4 575.3C445.8 577.3 444.1 584.8 442.5 587.0C440.9 589.2 438.2 586.6 437.0 588.6C435.9 590.5 434.9 595.8 435.5 598.8C436.0 601.7 439.1 603.2 440.2 606.6C441.2 609.9 441.5 617.0 441.7 619.1" fill="none" stroke="#111" stroke-width="1.60" />
<path d="M390.9 609.7C391.1 611.0 390.9 614.9 391.7 617.5C392.5 620.1 393.2 623.4 395.6 625.3C398.1 627.3 400.6 627.7 406.6 629.2C412.6 630.7 427.4 633.5 431.6 634.4" fill="none" stroke="#111" stroke-width="1.60" />
<path d="M430.0 619.1C430.2 620.9 430.0 627.3 431.2 630.0C432.5 632.7 435.8 634.9 437.5 635.0C439.2 635.1 441.0 632.8 441.7 630.3C442.4 627.8 441.8 621.6 441.9 619.8" fill="none" stroke="#111" stroke-width="1.60" />
<path d="M406.6 630.0C406.8 630.8 400.3 632.0 408.1 635.0C415.9 638.0 445.9 646.1 453.4 648.3" fill="none" stroke="#111" stroke-width="1.60" />
<path d="M442.5 627.7C444.1 628.1 451.1 627.8 452.2 630.3C453.3 632.8 456.5 642.7 449.1 642.8C441.6 642.9 414.3 632.8 407.3 630.8" fill="none" stroke="#111" stroke-width="1.60" />
<path d="M383.9 608.1C383.5 613.3 381.9 629.0 381.6 639.4C381.2 649.8 382.0 668.3 382.0 670.6C382.0 673.0 381.2 652.4 381.6 653.4C381.9 654.5 382.6 669.8 383.9 676.9C385.2 683.9 386.9 690.9 389.4 695.6C391.8 700.3 395.4 703.4 398.8 705.0C402.1 706.6 406.3 706.1 409.7 705.3C413.1 704.5 416.4 702.2 419.1 700.3C421.7 698.4 424.5 695.1 425.6 694.1" fill="none" stroke="#111" stroke-width="1.60" />
<path d="M414.4 639.4C415.9 642.5 421.4 653.7 423.8 658.1C426.1 662.6 428.3 663.6 428.4 665.9C428.6 668.3 425.1 671.3 424.5 672.2C424.0 673.1 425.2 671.5 425.3 671.4" fill="none" stroke="#111" stroke-width="1.60" />
<path d="M424.5 672.2L466.2 680.3" fill="none" stroke="#111" stroke-width="1.60" />
<path d="M453.4 648.3C455.0 651.0 460.5 659.1 462.8 664.4C465.2 669.7 466.7 677.4 467.5 680.0" fill="none" stroke="#111" stroke-width="1.60" />
<path d="M373.8 625.3C369.3 624.4 351.9 619.6 347.2 619.8C342.5 620.1 345.9 625.7 345.6 626.9L357.3 630.0L351.9 637.8L372.2 642.8" fill="#fff" stroke="#111" stroke-width="1.60" />
<ellipse cx="375.8" cy="633.6" rx="5.0" ry="8.6" transform="rotate(8.0 375.8 633.6)" fill="#fff" stroke="#111" stroke-width="1.80"/>
<ellipse cx="376.2" cy="633.8" rx="3.3" ry="6.5" transform="rotate(8.0 376.2 633.8)" fill="none" stroke="#111" stroke-width="2.10"/>
<ellipse cx="376.6" cy="633.8" rx="2.0" ry="4.7" transform="rotate(8.0 376.6 633.8)" fill="none" stroke="#111" stroke-width="1.00"/>
<ellipse cx="458.6" cy="638.6" rx="5.6" ry="8.8" transform="rotate(8.0 458.6 638.6)" fill="#fff" stroke="#111" stroke-width="1.80"/>
<ellipse cx="459.0" cy="638.8" rx="2.9" ry="5.2" transform="rotate(8.0 459.0 638.8)" fill="none" stroke="#111" stroke-width="2.10"/>
<path d="M458.1 535.5C461.2 536.8 473.6 541.6 476.9 543.3C480.1 545.0 480.8 546.2 477.7 545.6C474.5 545.0 461.4 540.7 458.1 539.7" fill="none" stroke="#111" stroke-width="1.25" />
<path d="M483.9 614.4L465.9 643.3L470.6 644.1L483.9 614.4Z" fill="none" stroke="#111" stroke-width="1.25" />
<path d="M480.0 530.0C479.5 535.2 477.1 552.7 476.9 561.2C476.6 569.8 476.9 577.1 478.4 581.6C480.0 586.0 484.2 586.8 486.2 588.1C488.3 589.5 490.2 589.4 490.9 589.7" fill="none" stroke="#111" stroke-width="1.60" />
<ellipse cx="483.9" cy="578.4" rx="2.7" ry="4.7" transform="rotate(8.0 483.9 578.4)" fill="none" stroke="#111" stroke-width="1.70"/>
<path d="M455.0 589.4L476.9 594.4" fill="none" stroke="#111" stroke-width="1.60" />
<path d="M455.8 605.0L490.0 615.2" fill="none" stroke="#111" stroke-width="1.60" />
<path d="M355.0 633.1C354.0 634.2 349.9 636.5 348.8 639.4C347.6 642.2 347.3 646.7 348.0 650.3C348.6 654.0 351.5 656.8 352.7 661.2C353.8 665.7 353.8 670.9 355.0 676.9C356.2 682.9 358.3 691.7 359.7 697.2C361.1 702.7 362.3 707.1 363.6 709.7C364.9 712.3 363.9 711.9 367.5 712.8C371.1 713.7 382.1 714.8 385.0 715.2" fill="none" stroke="#111" stroke-width="1.60" />
<path d="M393.3 721.4C395.0 721.0 399.9 720.5 403.4 719.1C407.0 717.6 411.2 715.4 414.4 712.8C417.5 710.2 420.1 706.7 422.2 703.4C424.3 700.2 426.4 695.0 427.2 693.3" fill="none" stroke="#111" stroke-width="1.60" />
<ellipse cx="387.8" cy="722.2" rx="5.0" ry="8.6" transform="rotate(8.0 387.8 722.2)" fill="#fff" stroke="#111" stroke-width="1.80"/>
<ellipse cx="388.2" cy="722.4" rx="2.8" ry="5.3" transform="rotate(8.0 388.2 722.4)" fill="none" stroke="#111" stroke-width="2.10"/>
<path d="M373.0 730.0C373.2 730.8 372.6 733.4 374.5 734.7C376.5 736.0 382.1 737.7 384.7 737.8C387.3 737.9 389.2 735.9 390.2 735.5" fill="none" stroke="#111" stroke-width="1.20" />
<path d="M423.8 694.1C423.8 695.4 422.7 700.3 423.8 701.9C424.8 703.5 429.2 703.4 430.3 703.8" fill="none" stroke="#111" stroke-width="1.60" />
<ellipse cx="436.2" cy="698.1" rx="3.8" ry="6.2" transform="rotate(8.0 436.2 698.1)" fill="#fff" stroke="#111" stroke-width="1.80"/>
<ellipse cx="436.6" cy="698.3" rx="1.9" ry="3.8" transform="rotate(8.0 436.6 698.3)" fill="none" stroke="#111" stroke-width="2.10"/>
<path d="M475.3 683.9C473.8 683.3 474.3 682.4 465.9 680.3C457.6 678.2 432.7 672.0 425.3 671.4C417.9 670.8 421.9 674.1 421.4 676.9C420.9 679.6 421.5 685.2 422.2 687.8C422.8 690.4 417.2 690.0 425.3 692.5C433.4 695.0 463.1 701.0 470.6 702.7" fill="#fff" stroke="#111" stroke-width="1.60" />
<ellipse cx="475.3" cy="693.3" rx="5.5" ry="9.4" transform="rotate(8.0 475.3 693.3)" fill="#fff" stroke="#111" stroke-width="1.80"/>
<ellipse cx="475.7" cy="693.5" rx="3.6" ry="7.1" transform="rotate(8.0 475.7 693.5)" fill="none" stroke="#111" stroke-width="2.10"/>
<ellipse cx="476.1" cy="693.5" rx="2.2" ry="5.2" transform="rotate(8.0 476.1 693.5)" fill="none" stroke="#111" stroke-width="1.00"/>
<path d="M412.8 639.4C419.3 641.2 443.3 645.4 451.9 650.3C460.5 655.3 462.0 664.1 464.4 669.1C466.8 674.1 465.9 678.4 466.2 680.3" fill="none" stroke="#111" stroke-width="1.60" />
<path d="M454.2 650.3C456.4 651.1 464.0 650.6 467.5 655.0C471.0 659.4 474.0 673.2 475.3 676.9" fill="none" stroke="#111" stroke-width="1.60" />
<line x1="435.0" y1="706.9" x2="438.6" y2="759.7" stroke="#111" stroke-width="1.10"/>
<circle cx="435.0" cy="706.2" r="1.9" fill="#111"/>
<ellipse cx="484.1" cy="690.2" rx="3.9" ry="5.5" transform="rotate(8.0 484.1 690.2)" fill="#fff" stroke="#111" stroke-width="1.80"/>
<path d="M520.0 689.4C520.3 690.2 520.0 692.8 521.6 694.1C523.1 695.4 527.2 696.9 529.4 697.2C531.6 697.4 533.8 696.8 534.8 695.6C535.9 694.5 535.5 691.1 535.6 690.2" fill="none" stroke="#111" stroke-width="1.60" />
<path d="M479.4 681.6C481.7 682.6 488.5 686.6 493.4 687.8C498.4 689.0 504.4 689.1 509.1 688.6C513.8 688.1 519.5 685.3 521.6 684.7" fill="none" stroke="#111" stroke-width="1.60" />
<ellipse cx="532.5" cy="681.6" rx="5.0" ry="8.6" transform="rotate(8.0 532.5 681.6)" fill="#fff" stroke="#111" stroke-width="1.80"/>
<ellipse cx="532.9" cy="681.8" rx="2.8" ry="5.3" transform="rotate(8.0 532.9 681.8)" fill="none" stroke="#111" stroke-width="2.10"/>
<path d="M543.4 659.7C544.7 660.3 549.0 664.7 551.2 663.1C553.5 661.6 556.2 653.0 556.7 650.3C557.2 647.7 554.8 647.7 554.4 647.2" fill="none" stroke="#111" stroke-width="1.60" />
<path d="M499.7 630.0C497.7 636.7 488.4 662.9 487.5 670.3C486.6 677.7 491.8 681.2 494.2 674.5C496.6 667.8 500.7 637.4 502.0 630.0" fill="none" stroke="#111" stroke-width="1.25" />
<path d="M520.0 630.0C520.8 636.0 523.4 659.7 524.7 666.2C525.9 672.8 527.9 675.1 527.5 669.1C527.1 663.0 523.3 636.5 522.5 630.0" fill="none" stroke="#111" stroke-width="1.25" />
<!-- 60_bolts.py -->
<g transform="translate(966.0 149.0) rotate(22.17)"><rect x="10.0" y="-4.1" width="7.7" height="8.2" fill="#fff" stroke="#111" stroke-width="1.7"/><path d="M11.0 -5.0 L1.8 -5.0 Q-1.0 -4.5 -1.0 0 Q-1.0 4.5 1.8 5.0 L11.0 5.0 Z" fill="#111" stroke="#111" stroke-width="0.8"/><ellipse cx="18.2" cy="0" rx="2.4" ry="7.7" transform="rotate(-12.2 18.2 0)" fill="#fff" stroke="#111" stroke-width="2.7"/><path d="M18.9 -6.4 L26.2 -6.4 L26.2 6.4 L18.9 6.4 Z" fill="#fff" stroke="#111" stroke-width="2.1"/><path d="M18.9 -2.7 L26.2 -2.7 M18.9 2.7 L26.2 2.7" stroke="#111" stroke-width="1.5"/><ellipse cx="26.2" cy="0" rx="2.7" ry="6.4" transform="rotate(-12.2 26.2 0)" fill="#fff" stroke="#111" stroke-width="2.0"/><circle cx="28.9" cy="1.0" r="2.0" fill="#111"/></g>
<g transform="translate(928.5 175.0) rotate(21.10)"><rect x="10.0" y="-4.1" width="9.0" height="8.2" fill="#fff" stroke="#111" stroke-width="1.7"/><path d="M11.0 -5.0 L1.8 -5.0 Q-1.0 -4.5 -1.0 0 Q-1.0 4.5 1.8 5.0 L11.0 5.0 Z" fill="#111" stroke="#111" stroke-width="0.8"/><ellipse cx="19.5" cy="0" rx="2.4" ry="7.7" transform="rotate(-11.6 19.5 0)" fill="#fff" stroke="#111" stroke-width="2.7"/><path d="M20.2 -6.4 L27.5 -6.4 L27.5 6.4 L20.2 6.4 Z" fill="#fff" stroke="#111" stroke-width="2.1"/><path d="M20.2 -2.7 L27.5 -2.7 M20.2 2.7 L27.5 2.7" stroke="#111" stroke-width="1.5"/><ellipse cx="27.5" cy="0" rx="2.7" ry="6.4" transform="rotate(-11.6 27.5 0)" fill="#fff" stroke="#111" stroke-width="2.0"/><circle cx="30.2" cy="1.0" r="2.0" fill="#111"/></g>
<g transform="translate(938.0 255.0) rotate(19.65)"><rect x="10.0" y="-4.1" width="8.2" height="8.2" fill="#fff" stroke="#111" stroke-width="1.7"/><path d="M11.0 -5.0 L1.8 -5.0 Q-1.0 -4.5 -1.0 0 Q-1.0 4.5 1.8 5.0 L11.0 5.0 Z" fill="#111" stroke="#111" stroke-width="0.8"/><ellipse cx="18.7" cy="0" rx="2.4" ry="7.7" transform="rotate(-10.8 18.7 0)" fill="#fff" stroke="#111" stroke-width="2.7"/><path d="M19.4 -6.4 L26.7 -6.4 L26.7 6.4 L19.4 6.4 Z" fill="#fff" stroke="#111" stroke-width="2.1"/><path d="M19.4 -2.7 L26.7 -2.7 M19.4 2.7 L26.7 2.7" stroke="#111" stroke-width="1.5"/><ellipse cx="26.7" cy="0" rx="2.7" ry="6.4" transform="rotate(-10.8 26.7 0)" fill="#fff" stroke="#111" stroke-width="2.0"/><circle cx="29.4" cy="1.0" r="2.0" fill="#111"/></g>
<g transform="translate(723.0 327.5) rotate(19.16)"><rect x="13.0" y="-4.1" width="25.8" height="8.2" fill="#fff" stroke="#111" stroke-width="1.7"/><path d="M14.0 -5.0 L1.8 -5.0 Q-1.0 -4.5 -1.0 0 Q-1.0 4.5 1.8 5.0 L14.0 5.0 Z" fill="#111" stroke="#111" stroke-width="0.8"/><ellipse cx="39.3" cy="0" rx="2.4" ry="7.7" transform="rotate(-10.5 39.3 0)" fill="#fff" stroke="#111" stroke-width="2.7"/><path d="M40.0 -6.4 L47.3 -6.4 L47.3 6.4 L40.0 6.4 Z" fill="#fff" stroke="#111" stroke-width="2.1"/><path d="M40.0 -2.7 L47.3 -2.7 M40.0 2.7 L47.3 2.7" stroke="#111" stroke-width="1.5"/><ellipse cx="47.3" cy="0" rx="2.7" ry="6.4" transform="rotate(-10.5 47.3 0)" fill="#fff" stroke="#111" stroke-width="2.0"/></g>
<g transform="translate(633.5 356.0) rotate(19.16)"><rect x="13.0" y="-4.1" width="25.8" height="8.2" fill="#fff" stroke="#111" stroke-width="1.7"/><path d="M14.0 -5.0 L1.8 -5.0 Q-1.0 -4.5 -1.0 0 Q-1.0 4.5 1.8 5.0 L14.0 5.0 Z" fill="#111" stroke="#111" stroke-width="0.8"/><ellipse cx="39.3" cy="0" rx="2.4" ry="7.7" transform="rotate(-10.5 39.3 0)" fill="#fff" stroke="#111" stroke-width="2.7"/><path d="M40.0 -6.4 L47.3 -6.4 L47.3 6.4 L40.0 6.4 Z" fill="#fff" stroke="#111" stroke-width="2.1"/><path d="M40.0 -2.7 L47.3 -2.7 M40.0 2.7 L47.3 2.7" stroke="#111" stroke-width="1.5"/><ellipse cx="47.3" cy="0" rx="2.7" ry="6.4" transform="rotate(-10.5 47.3 0)" fill="#fff" stroke="#111" stroke-width="2.0"/><circle cx="50.0" cy="1.0" r="2.0" fill="#111"/></g>
<g transform="translate(654.5 398.8) rotate(15.41)"><rect x="15.0" y="-4.1" width="23.9" height="8.2" fill="#fff" stroke="#111" stroke-width="1.7"/><path d="M16.0 -5.0 L1.8 -5.0 Q-1.0 -4.5 -1.0 0 Q-1.0 4.5 1.8 5.0 L16.0 5.0 Z" fill="#111" stroke="#111" stroke-width="0.8"/><ellipse cx="39.4" cy="0" rx="2.4" ry="7.7" transform="rotate(-8.5 39.4 0)" fill="#fff" stroke="#111" stroke-width="2.7"/><path d="M40.1 -6.4 L47.4 -6.4 L47.4 6.4 L40.1 6.4 Z" fill="#fff" stroke="#111" stroke-width="2.1"/><path d="M40.1 -2.7 L47.4 -2.7 M40.1 2.7 L47.4 2.7" stroke="#111" stroke-width="1.5"/><ellipse cx="47.4" cy="0" rx="2.7" ry="6.4" transform="rotate(-8.5 47.4 0)" fill="#fff" stroke="#111" stroke-width="2.0"/><circle cx="50.1" cy="1.0" r="2.0" fill="#111"/></g>
<g transform="translate(614.1 422.2) rotate(15.34)"><rect x="15.0" y="-4.1" width="24.5" height="8.2" fill="#fff" stroke="#111" stroke-width="1.7"/><path d="M16.0 -5.0 L1.8 -5.0 Q-1.0 -4.5 -1.0 0 Q-1.0 4.5 1.8 5.0 L16.0 5.0 Z" fill="#111" stroke="#111" stroke-width="0.8"/><ellipse cx="40.0" cy="0" rx="2.4" ry="7.7" transform="rotate(-8.4 40.0 0)" fill="#fff" stroke="#111" stroke-width="2.7"/><path d="M40.7 -6.4 L48.0 -6.4 L48.0 6.4 L40.7 6.4 Z" fill="#fff" stroke="#111" stroke-width="2.1"/><path d="M40.7 -2.7 L48.0 -2.7 M40.7 2.7 L48.0 2.7" stroke="#111" stroke-width="1.5"/><ellipse cx="48.0" cy="0" rx="2.7" ry="6.4" transform="rotate(-8.4 48.0 0)" fill="#fff" stroke="#111" stroke-width="2.0"/><circle cx="50.7" cy="1.0" r="2.0" fill="#111"/></g>
<g transform="translate(628.1 448.0) rotate(14.84)"><rect x="15.0" y="-4.1" width="23.9" height="8.2" fill="#fff" stroke="#111" stroke-width="1.7"/><path d="M16.0 -5.0 L1.8 -5.0 Q-1.0 -4.5 -1.0 0 Q-1.0 4.5 1.8 5.0 L16.0 5.0 Z" fill="#111" stroke="#111" stroke-width="0.8"/><ellipse cx="39.4" cy="0" rx="2.4" ry="7.7" transform="rotate(-8.2 39.4 0)" fill="#fff" stroke="#111" stroke-width="2.7"/><path d="M40.1 -6.4 L47.4 -6.4 L47.4 6.4 L40.1 6.4 Z" fill="#fff" stroke="#111" stroke-width="2.1"/><path d="M40.1 -2.7 L47.4 -2.7 M40.1 2.7 L47.4 2.7" stroke="#111" stroke-width="1.5"/><ellipse cx="47.4" cy="0" rx="2.7" ry="6.4" transform="rotate(-8.2 47.4 0)" fill="#fff" stroke="#111" stroke-width="2.0"/><circle cx="50.1" cy="1.0" r="2.0" fill="#111"/></g>
<g transform="translate(606.4 462.0) rotate(16.34)"><rect x="15.0" y="-4.1" width="23.6" height="8.2" fill="#fff" stroke="#111" stroke-width="1.7"/><path d="M16.0 -5.0 L1.8 -5.0 Q-1.0 -4.5 -1.0 0 Q-1.0 4.5 1.8 5.0 L16.0 5.0 Z" fill="#111" stroke="#111" stroke-width="0.8"/><ellipse cx="39.1" cy="0" rx="2.4" ry="7.7" transform="rotate(-9.0 39.1 0)" fill="#fff" stroke="#111" stroke-width="2.7"/><path d="M39.8 -6.4 L47.1 -6.4 L47.1 6.4 L39.8 6.4 Z" fill="#fff" stroke="#111" stroke-width="2.1"/><path d="M39.8 -2.7 L47.1 -2.7 M39.8 2.7 L47.1 2.7" stroke="#111" stroke-width="1.5"/><ellipse cx="47.1" cy="0" rx="2.7" ry="6.4" transform="rotate(-9.0 47.1 0)" fill="#fff" stroke="#111" stroke-width="2.0"/><circle cx="49.8" cy="1.0" r="2.0" fill="#111"/></g>
<g transform="translate(779.5 395.0) rotate(15.51)"><rect x="15.5" y="-4.1" width="56.0" height="8.2" fill="#fff" stroke="#111" stroke-width="1.7"/><path d="M16.5 -5.0 L1.8 -5.0 Q-1.0 -4.5 -1.0 0 Q-1.0 4.5 1.8 5.0 L16.5 5.0 Z" fill="#111" stroke="#111" stroke-width="0.8"/><ellipse cx="72.0" cy="0" rx="2.4" ry="7.7" transform="rotate(-8.5 72.0 0)" fill="#fff" stroke="#111" stroke-width="2.7"/><path d="M72.7 -6.4 L80.0 -6.4 L80.0 6.4 L72.7 6.4 Z" fill="#fff" stroke="#111" stroke-width="2.1"/><path d="M72.7 -2.7 L80.0 -2.7 M72.7 2.7 L80.0 2.7" stroke="#111" stroke-width="1.5"/><ellipse cx="80.0" cy="0" rx="2.7" ry="6.4" transform="rotate(-8.5 80.0 0)" fill="#fff" stroke="#111" stroke-width="2.0"/><circle cx="82.7" cy="1.0" r="2.0" fill="#111"/></g>
<g transform="translate(777.0 441.0) rotate(15.59)"><rect x="15.5" y="-4.1" width="57.1" height="8.2" fill="#fff" stroke="#111" stroke-width="1.7"/><path d="M16.5 -5.0 L1.8 -5.0 Q-1.0 -4.5 -1.0 0 Q-1.0 4.5 1.8 5.0 L16.5 5.0 Z" fill="#111" stroke="#111" stroke-width="0.8"/><ellipse cx="73.1" cy="0" rx="2.4" ry="7.7" transform="rotate(-8.6 73.1 0)" fill="#fff" stroke="#111" stroke-width="2.7"/><path d="M73.8 -6.4 L81.1 -6.4 L81.1 6.4 L73.8 6.4 Z" fill="#fff" stroke="#111" stroke-width="2.1"/><path d="M73.8 -2.7 L81.1 -2.7 M73.8 2.7 L81.1 2.7" stroke="#111" stroke-width="1.5"/><ellipse cx="81.1" cy="0" rx="2.7" ry="6.4" transform="rotate(-8.6 81.1 0)" fill="#fff" stroke="#111" stroke-width="2.0"/><circle cx="83.8" cy="1.0" r="2.0" fill="#111"/></g>
<g transform="translate(616.1 509.8) rotate(14.29)"><rect x="15.0" y="-4.1" width="22.9" height="8.2" fill="#fff" stroke="#111" stroke-width="1.7"/><path d="M16.0 -5.0 L1.8 -5.0 Q-1.0 -4.5 -1.0 0 Q-1.0 4.5 1.8 5.0 L16.0 5.0 Z" fill="#111" stroke="#111" stroke-width="0.8"/><ellipse cx="38.4" cy="0" rx="2.4" ry="7.7" transform="rotate(-7.9 38.4 0)" fill="#fff" stroke="#111" stroke-width="2.7"/><path d="M39.1 -6.4 L46.4 -6.4 L46.4 6.4 L39.1 6.4 Z" fill="#fff" stroke="#111" stroke-width="2.1"/><path d="M39.1 -2.7 L46.4 -2.7 M39.1 2.7 L46.4 2.7" stroke="#111" stroke-width="1.5"/><ellipse cx="46.4" cy="0" rx="2.7" ry="6.4" transform="rotate(-7.9 46.4 0)" fill="#fff" stroke="#111" stroke-width="2.0"/></g>
<g transform="translate(595.6 593.7) rotate(15.41)"><rect x="15.0" y="-4.1" width="23.2" height="8.2" fill="#fff" stroke="#111" stroke-width="1.7"/><path d="M16.0 -5.0 L1.8 -5.0 Q-1.0 -4.5 -1.0 0 Q-1.0 4.5 1.8 5.0 L16.0 5.0 Z" fill="#111" stroke="#111" stroke-width="0.8"/><ellipse cx="38.7" cy="0" rx="2.4" ry="7.7" transform="rotate(-8.5 38.7 0)" fill="#fff" stroke="#111" stroke-width="2.7"/><path d="M39.4 -6.4 L46.7 -6.4 L46.7 6.4 L39.4 6.4 Z" fill="#fff" stroke="#111" stroke-width="2.1"/><path d="M39.4 -2.7 L46.7 -2.7 M39.4 2.7 L46.7 2.7" stroke="#111" stroke-width="1.5"/><ellipse cx="46.7" cy="0" rx="2.7" ry="6.4" transform="rotate(-8.5 46.7 0)" fill="#fff" stroke="#111" stroke-width="2.0"/></g>
<g transform="translate(722.0 491.0) rotate(16.63)"><rect x="14.0" y="-4.1" width="14.7" height="8.2" fill="#fff" stroke="#111" stroke-width="1.7"/><path d="M15.0 -5.0 L1.8 -5.0 Q-1.0 -4.5 -1.0 0 Q-1.0 4.5 1.8 5.0 L15.0 5.0 Z" fill="#111" stroke="#111" stroke-width="0.8"/><ellipse cx="29.2" cy="0" rx="2.4" ry="7.7" transform="rotate(-9.1 29.2 0)" fill="#fff" stroke="#111" stroke-width="2.7"/><path d="M29.9 -6.4 L37.2 -6.4 L37.2 6.4 L29.9 6.4 Z" fill="#fff" stroke="#111" stroke-width="2.1"/><path d="M29.9 -2.7 L37.2 -2.7 M29.9 2.7 L37.2 2.7" stroke="#111" stroke-width="1.5"/><ellipse cx="37.2" cy="0" rx="2.7" ry="6.4" transform="rotate(-9.1 37.2 0)" fill="#fff" stroke="#111" stroke-width="2.0"/></g>
<g transform="translate(665.5 563.0) rotate(15.89)"><rect x="14.5" y="-4.1" width="14.5" height="8.2" fill="#fff" stroke="#111" stroke-width="1.7"/><path d="M15.5 -5.0 L1.8 -5.0 Q-1.0 -4.5 -1.0 0 Q-1.0 4.5 1.8 5.0 L15.5 5.0 Z" fill="#111" stroke="#111" stroke-width="0.8"/><ellipse cx="29.5" cy="0" rx="2.4" ry="7.7" transform="rotate(-8.7 29.5 0)" fill="#fff" stroke="#111" stroke-width="2.7"/><path d="M30.2 -6.4 L37.5 -6.4 L37.5 6.4 L30.2 6.4 Z" fill="#fff" stroke="#111" stroke-width="2.1"/><path d="M30.2 -2.7 L37.5 -2.7 M30.2 2.7 L37.5 2.7" stroke="#111" stroke-width="1.5"/><ellipse cx="37.5" cy="0" rx="2.7" ry="6.4" transform="rotate(-8.7 37.5 0)" fill="#fff" stroke="#111" stroke-width="2.0"/><circle cx="40.2" cy="1.0" r="2.0" fill="#111"/></g>
<g transform="translate(620.8 642.2) rotate(12.28)"><rect x="14.5" y="-4.1" width="14.4" height="8.2" fill="#fff" stroke="#111" stroke-width="1.7"/><path d="M15.5 -5.0 L1.8 -5.0 Q-1.0 -4.5 -1.0 0 Q-1.0 4.5 1.8 5.0 L15.5 5.0 Z" fill="#111" stroke="#111" stroke-width="0.8"/><ellipse cx="29.4" cy="0" rx="2.4" ry="7.7" transform="rotate(-6.8 29.4 0)" fill="#fff" stroke="#111" stroke-width="2.7"/><path d="M30.1 -6.4 L37.4 -6.4 L37.4 6.4 L30.1 6.4 Z" fill="#fff" stroke="#111" stroke-width="2.1"/><path d="M30.1 -2.7 L37.4 -2.7 M30.1 2.7 L37.4 2.7" stroke="#111" stroke-width="1.5"/><ellipse cx="37.4" cy="0" rx="2.7" ry="6.4" transform="rotate(-6.8 37.4 0)" fill="#fff" stroke="#111" stroke-width="2.0"/><circle cx="40.1" cy="1.0" r="2.0" fill="#111"/></g>
<g transform="translate(860.5 602.5) rotate(15.80)"><rect x="9.0" y="-4.1" width="7.0" height="8.2" fill="#fff" stroke="#111" stroke-width="1.7"/><path d="M10.0 -5.0 L1.8 -5.0 Q-1.0 -4.5 -1.0 0 Q-1.0 4.5 1.8 5.0 L10.0 5.0 Z" fill="#111" stroke="#111" stroke-width="0.8"/><ellipse cx="16.5" cy="0" rx="2.4" ry="7.7" transform="rotate(-8.7 16.5 0)" fill="#fff" stroke="#111" stroke-width="2.7"/><path d="M17.2 -6.4 L24.5 -6.4 L24.5 6.4 L17.2 6.4 Z" fill="#fff" stroke="#111" stroke-width="2.1"/><path d="M17.2 -2.7 L24.5 -2.7 M17.2 2.7 L24.5 2.7" stroke="#111" stroke-width="1.5"/><ellipse cx="24.5" cy="0" rx="2.7" ry="6.4" transform="rotate(-8.7 24.5 0)" fill="#fff" stroke="#111" stroke-width="2.0"/><circle cx="27.2" cy="1.0" r="2.0" fill="#111"/></g>
<g transform="translate(858.5 692.5) rotate(16.09)"><rect x="9.0" y="-4.1" width="6.6" height="8.2" fill="#fff" stroke="#111" stroke-width="1.7"/><path d="M10.0 -5.0 L1.8 -5.0 Q-1.0 -4.5 -1.0 0 Q-1.0 4.5 1.8 5.0 L10.0 5.0 Z" fill="#111" stroke="#111" stroke-width="0.8"/><ellipse cx="16.1" cy="0" rx="2.4" ry="7.7" transform="rotate(-8.8 16.1 0)" fill="#fff" stroke="#111" stroke-width="2.7"/><path d="M16.8 -6.4 L24.1 -6.4 L24.1 6.4 L16.8 6.4 Z" fill="#fff" stroke="#111" stroke-width="2.1"/><path d="M16.8 -2.7 L24.1 -2.7 M16.8 2.7 L24.1 2.7" stroke="#111" stroke-width="1.5"/><ellipse cx="24.1" cy="0" rx="2.7" ry="6.4" transform="rotate(-8.8 24.1 0)" fill="#fff" stroke="#111" stroke-width="2.0"/><circle cx="26.8" cy="1.0" r="2.0" fill="#111"/></g>
<g transform="translate(888.0 703.5) rotate(15.80)"><rect x="9.0" y="-4.1" width="7.0" height="8.2" fill="#fff" stroke="#111" stroke-width="1.7"/><path d="M10.0 -5.0 L1.8 -5.0 Q-1.0 -4.5 -1.0 0 Q-1.0 4.5 1.8 5.0 L10.0 5.0 Z" fill="#111" stroke="#111" stroke-width="0.8"/><ellipse cx="16.5" cy="0" rx="2.4" ry="7.7" transform="rotate(-8.7 16.5 0)" fill="#fff" stroke="#111" stroke-width="2.7"/><path d="M17.2 -6.4 L24.5 -6.4 L24.5 6.4 L17.2 6.4 Z" fill="#fff" stroke="#111" stroke-width="2.1"/><path d="M17.2 -2.7 L24.5 -2.7 M17.2 2.7 L24.5 2.7" stroke="#111" stroke-width="1.5"/><ellipse cx="24.5" cy="0" rx="2.7" ry="6.4" transform="rotate(-8.7 24.5 0)" fill="#fff" stroke="#111" stroke-width="2.0"/><circle cx="27.2" cy="1.0" r="2.0" fill="#111"/></g>
<g transform="translate(689.5 715.0) rotate(15.20)"><rect x="15.0" y="-4.1" width="21.2" height="8.2" fill="#fff" stroke="#111" stroke-width="1.7"/><path d="M16.0 -5.0 L1.8 -5.0 Q-1.0 -4.5 -1.0 0 Q-1.0 4.5 1.8 5.0 L16.0 5.0 Z" fill="#111" stroke="#111" stroke-width="0.8"/><ellipse cx="36.7" cy="0" rx="2.4" ry="7.7" transform="rotate(-8.4 36.7 0)" fill="#fff" stroke="#111" stroke-width="2.7"/><path d="M37.4 -6.4 L44.7 -6.4 L44.7 6.4 L37.4 6.4 Z" fill="#fff" stroke="#111" stroke-width="2.1"/><path d="M37.4 -2.7 L44.7 -2.7 M37.4 2.7 L44.7 2.7" stroke="#111" stroke-width="1.5"/><ellipse cx="44.7" cy="0" rx="2.7" ry="6.4" transform="rotate(-8.4 44.7 0)" fill="#fff" stroke="#111" stroke-width="2.0"/><circle cx="47.4" cy="1.0" r="2.0" fill="#111"/></g>
<g transform="translate(745.5 734.0) rotate(15.05)"><rect x="15.0" y="-4.1" width="21.7" height="8.2" fill="#fff" stroke="#111" stroke-width="1.7"/><path d="M16.0 -5.0 L1.8 -5.0 Q-1.0 -4.5 -1.0 0 Q-1.0 4.5 1.8 5.0 L16.0 5.0 Z" fill="#111" stroke="#111" stroke-width="0.8"/><ellipse cx="37.2" cy="0" rx="2.4" ry="7.7" transform="rotate(-8.3 37.2 0)" fill="#fff" stroke="#111" stroke-width="2.7"/><path d="M37.9 -6.4 L45.2 -6.4 L45.2 6.4 L37.9 6.4 Z" fill="#fff" stroke="#111" stroke-width="2.1"/><path d="M37.9 -2.7 L45.2 -2.7 M37.9 2.7 L45.2 2.7" stroke="#111" stroke-width="1.5"/><ellipse cx="45.2" cy="0" rx="2.7" ry="6.4" transform="rotate(-8.3 45.2 0)" fill="#fff" stroke="#111" stroke-width="2.0"/><circle cx="47.9" cy="1.0" r="2.0" fill="#111"/></g>
<g transform="translate(722.0 746.0) rotate(15.05)"><rect x="15.0" y="-4.1" width="21.7" height="8.2" fill="#fff" stroke="#111" stroke-width="1.7"/><path d="M16.0 -5.0 L1.8 -5.0 Q-1.0 -4.5 -1.0 0 Q-1.0 4.5 1.8 5.0 L16.0 5.0 Z" fill="#111" stroke="#111" stroke-width="0.8"/><ellipse cx="37.2" cy="0" rx="2.4" ry="7.7" transform="rotate(-8.3 37.2 0)" fill="#fff" stroke="#111" stroke-width="2.7"/><path d="M37.9 -6.4 L45.2 -6.4 L45.2 6.4 L37.9 6.4 Z" fill="#fff" stroke="#111" stroke-width="2.1"/><path d="M37.9 -2.7 L45.2 -2.7 M37.9 2.7 L45.2 2.7" stroke="#111" stroke-width="1.5"/><ellipse cx="45.2" cy="0" rx="2.7" ry="6.4" transform="rotate(-8.3 45.2 0)" fill="#fff" stroke="#111" stroke-width="2.0"/><circle cx="47.9" cy="1.0" r="2.0" fill="#111"/></g>
<g transform="translate(688.5 759.0) rotate(16.03)"><rect x="15.0" y="-4.1" width="22.4" height="8.2" fill="#fff" stroke="#111" stroke-width="1.7"/><path d="M16.0 -5.0 L1.8 -5.0 Q-1.0 -4.5 -1.0 0 Q-1.0 4.5 1.8 5.0 L16.0 5.0 Z" fill="#111" stroke="#111" stroke-width="0.8"/><ellipse cx="37.9" cy="0" rx="2.4" ry="7.7" transform="rotate(-8.8 37.9 0)" fill="#fff" stroke="#111" stroke-width="2.7"/><path d="M38.6 -6.4 L45.9 -6.4 L45.9 6.4 L38.6 6.4 Z" fill="#fff" stroke="#111" stroke-width="2.1"/><path d="M38.6 -2.7 L45.9 -2.7 M38.6 2.7 L45.9 2.7" stroke="#111" stroke-width="1.5"/><ellipse cx="45.9" cy="0" rx="2.7" ry="6.4" transform="rotate(-8.8 45.9 0)" fill="#fff" stroke="#111" stroke-width="2.0"/><circle cx="48.6" cy="1.0" r="2.0" fill="#111"/></g>
<g transform="translate(686.0 798.5) rotate(15.46)"><rect x="15.0" y="-4.1" width="22.3" height="8.2" fill="#fff" stroke="#111" stroke-width="1.7"/><path d="M16.0 -5.0 L1.8 -5.0 Q-1.0 -4.5 -1.0 0 Q-1.0 4.5 1.8 5.0 L16.0 5.0 Z" fill="#111" stroke="#111" stroke-width="0.8"/><ellipse cx="37.8" cy="0" rx="2.4" ry="7.7" transform="rotate(-8.5 37.8 0)" fill="#fff" stroke="#111" stroke-width="2.7"/><path d="M38.5 -6.4 L45.8 -6.4 L45.8 6.4 L38.5 6.4 Z" fill="#fff" stroke="#111" stroke-width="2.1"/><path d="M38.5 -2.7 L45.8 -2.7 M38.5 2.7 L45.8 2.7" stroke="#111" stroke-width="1.5"/><ellipse cx="45.8" cy="0" rx="2.7" ry="6.4" transform="rotate(-8.5 45.8 0)" fill="#fff" stroke="#111" stroke-width="2.0"/><circle cx="48.5" cy="1.0" r="2.0" fill="#111"/></g>
<!-- 70_valve.py -->
<ellipse cx="756.4" cy="531.0" rx="8.3" ry="8.3" transform="rotate(0.0 756.4 531.0)" fill="#fff" stroke="#111" stroke-width="1.40"/>
<circle cx="760.9" cy="521.5" r="1.9" fill="#111"/>
<line x1="779.2" y1="502.0" x2="761.6" y2="520.8" stroke="#111" stroke-width="1.10"/>
<path d="M770.1 527.1C774.9 528.1 791.3 533.6 795.9 535.9C800.5 538.2 797.8 538.2 797.5 540.6C797.2 543.0 795.5 548.8 794.3 550.3C793.2 551.9 795.1 551.2 790.6 550.0C786.2 548.7 771.9 544.7 767.8 542.8C763.7 540.8 766.1 540.1 766.0 538.0C765.9 535.9 766.6 531.9 767.3 530.1C767.9 528.3 765.3 526.1 770.1 527.1Z" fill="#151515" stroke="#111" stroke-width="1.20" />
<path d="M772.9 528.8 L770.8 542.1 M775.7 529.7 L773.6 543.1 M778.5 530.7 L776.4 544.1 M781.3 531.7 L779.2 545.0 M784.1 532.6 L782.0 546.0 M787.0 533.6 L784.8 547.0 M789.8 534.6 L787.7 547.9 M792.6 535.5 L790.5 548.9 " stroke="#777" stroke-width="0.55" fill="none"/>
<line x1="805.6" y1="509.9" x2="783.1" y2="529.7" stroke="#111" stroke-width="1.10"/>
<circle cx="782.7" cy="530.3" r="1.6" fill="#111"/>
<ellipse cx="809.1" cy="549.4" rx="10.5" ry="19.0" transform="rotate(6.0 809.1 549.4)" fill="#fff" stroke="#111" stroke-width="1.50"/>
<ellipse cx="809.1" cy="549.4" rx="7.7" ry="15.8" transform="rotate(6.0 809.1 549.4)" fill="none" stroke="#111" stroke-width="1.40"/>
<line x1="844.3" y1="515.2" x2="818.2" y2="534.5" stroke="#111" stroke-width="1.10"/>
<circle cx="817.9" cy="535.0" r="2.0" fill="#111"/>
<path d="M828.4 534.8C830.3 533.5 834.3 526.9 835.5 532.7C836.6 538.5 836.5 563.8 835.5 569.6C834.4 575.5 831.2 569.4 829.3 567.9C827.4 566.4 825.2 563.8 824.0 560.9C822.9 557.9 822.3 553.7 822.3 550.3C822.3 546.9 823.0 543.2 824.0 540.6C825.1 538.1 826.5 536.2 828.4 534.8Z" fill="#151515" stroke="#111" stroke-width="1.20" />
<ellipse cx="842.5" cy="555.6" rx="13.4" ry="25.7" transform="rotate(8.0 842.5 555.6)" fill="#fff" stroke="#111" stroke-width="1.60"/>
<ellipse cx="843.9" cy="555.9" rx="10.9" ry="22.5" transform="rotate(8.0 843.9 555.9)" fill="none" stroke="#111" stroke-width="1.20"/>
<path d="M835.1 533.6C836.3 533.0 839.8 530.1 842.5 529.9C845.2 529.8 849.8 532.3 851.3 532.7" fill="none" stroke="#111" stroke-width="1.20" />
<path d="M839.9 549.4L846.0 543.6L855.7 545.9L859.2 553.8L857.4 566.1L851.3 570.5L840.7 564.4L839.9 549.4Z" fill="#fff" stroke="#111" stroke-width="1.60" />
<path d="M846.0 543.6C846.2 546.1 847.8 554.8 846.9 558.2C846.0 561.7 841.8 563.3 840.7 564.4" fill="none" stroke="#111" stroke-width="1.20" />
<path d="M846.9 558.2L851.3 570.5" fill="none" stroke="#111" stroke-width="1.20" />
<ellipse cx="853.0" cy="558.2" rx="4.6" ry="9.1" transform="rotate(8.0 853.0 558.2)" fill="#fff" stroke="#111" stroke-width="1.50"/>
<ellipse cx="853.4" cy="558.6" rx="3.0" ry="6.7" transform="rotate(8.0 853.4 558.6)" fill="none" stroke="#111" stroke-width="1.20"/>
<ellipse cx="853.8" cy="558.9" rx="1.6" ry="4.2" transform="rotate(8.0 853.8 558.9)" fill="none" stroke="#111" stroke-width="1.00"/>
<line x1="882.1" y1="531.9" x2="858.0" y2="546.3" stroke="#111" stroke-width="1.10"/>
<circle cx="857.4" cy="546.8" r="2.0" fill="#111"/>
<ellipse cx="753.0" cy="634.2" rx="22.9" ry="43.2" transform="rotate(3.0 753.0 634.2)" fill="none" stroke="#111" stroke-width="1.50"/>
<ellipse cx="753.0" cy="634.2" rx="19.9" ry="39.7" transform="rotate(3.0 753.0 634.2)" fill="none" stroke="#111" stroke-width="1.40"/>
<circle cx="751.6" cy="672.0" r="2.2" fill="#111"/>
<line x1="751.6" y1="672.0" x2="765.4" y2="697.4" stroke="#111" stroke-width="1.10"/>
<path d="M807.0 606.0C805.4 606.8 800.3 607.9 797.3 610.4C794.4 612.9 791.6 616.6 789.4 621.0C787.2 625.4 785.4 631.5 784.2 636.8C782.9 642.1 782.2 647.7 781.9 652.6C781.6 657.5 782.3 664.0 782.4 666.3" fill="none" stroke="#111" stroke-width="1.60" />
<path d="M808.2 610.1C806.2 612.0 798.9 616.3 795.9 621.3C793.0 626.4 791.7 633.6 790.7 640.3C789.6 647.1 789.8 658.2 789.6 661.8" fill="none" stroke="#111" stroke-width="1.20" />
<path d="M802.6 616.1C801.3 618.6 796.4 626.0 794.7 631.5C793.0 637.0 792.9 643.8 792.4 649.1C792.0 654.4 792.1 660.8 792.1 663.2" fill="none" stroke="#111" stroke-width="1.20" />
<path d="M827.2 584.9C829.1 584.1 831.7 584.9 833.4 586.2C835.1 587.5 836.8 590.1 837.4 592.9C838.0 595.6 836.2 599.3 836.9 602.5C837.5 605.7 839.7 608.2 841.3 612.2C842.9 616.1 845.2 620.7 846.6 626.2C847.9 631.8 848.9 639.1 849.2 645.6C849.5 652.0 848.9 659.1 848.3 664.9C847.7 670.8 845.8 676.6 845.7 680.7C845.5 684.8 847.4 686.7 847.4 689.5C847.4 692.3 846.7 695.5 845.7 697.4C844.7 699.3 842.9 701.0 841.3 701.0C839.7 701.0 837.5 698.3 836.0 697.4C834.6 696.6 834.3 695.0 832.5 695.7C830.7 696.4 828.4 700.4 825.5 701.8C822.5 703.3 817.6 704.6 814.9 704.5C812.3 704.3 811.4 702.9 809.6 701.0C807.9 699.1 806.0 695.7 804.4 693.0C802.8 690.4 801.4 686.6 800.0 685.1C798.5 683.7 797.3 684.3 795.6 684.3C793.8 684.3 791.5 685.7 789.4 685.1C787.4 684.6 784.6 682.6 783.3 680.7C782.0 678.8 781.4 675.8 781.5 673.7C781.7 671.7 782.7 669.8 784.2 668.4C785.6 667.1 788.3 666.4 790.3 665.8C792.4 665.2 795.3 666.2 796.5 664.9C797.6 663.6 797.1 661.4 797.3 657.9C797.6 654.4 797.6 649.1 798.2 643.8C798.8 638.6 799.5 631.5 800.9 626.2C802.2 621.0 803.8 616.0 806.1 612.2C808.5 608.4 812.6 605.7 814.9 603.4C817.3 601.1 819.0 600.2 820.2 598.1C821.4 596.1 820.8 593.3 822.0 591.1C823.1 588.9 825.3 585.8 827.2 584.9Z" fill="#fff" stroke="#111" stroke-width="1.50" />
<path d="M822.0 591.1C821.4 592.0 819.5 594.2 818.4 596.4C817.4 598.6 817.6 601.3 815.8 604.3C814.0 607.2 810.0 610.0 807.9 613.9C805.8 617.9 804.2 622.7 803.0 628.0C801.7 633.3 801.0 640.0 800.5 645.6C800.0 651.2 800.2 657.6 800.0 661.4C799.7 665.2 799.2 667.3 799.1 668.4" fill="none" stroke="#111" stroke-width="1.20" />
<path d="M799.1 668.4C798.8 669.9 796.8 674.0 797.3 677.2C797.9 680.4 800.3 684.1 802.6 687.8C805.0 691.4 808.8 696.9 811.4 699.2C814.0 701.5 815.8 701.8 818.4 701.8C821.1 701.8 824.6 700.7 827.2 699.2C829.9 697.7 832.6 695.0 834.3 693.0C835.9 691.1 836.5 688.7 836.9 687.8" fill="none" stroke="#111" stroke-width="1.20" />
<ellipse cx="823.7" cy="654.4" rx="16.7" ry="32.0" transform="rotate(5.0 823.7 654.4)" fill="none" stroke="#111" stroke-width="1.40"/>
<ellipse cx="833.4" cy="595.5" rx="3.0" ry="5.4" transform="rotate(5.0 833.4 595.5)" fill="none" stroke="#111" stroke-width="1.50"/>
<ellipse cx="792.9" cy="675.1" rx="3.0" ry="5.4" transform="rotate(5.0 792.9 675.1)" fill="none" stroke="#111" stroke-width="1.50"/>
<ellipse cx="843.0" cy="691.3" rx="3.0" ry="5.1" transform="rotate(5.0 843.0 691.3)" fill="none" stroke="#111" stroke-width="1.50"/>
<ellipse cx="834.1" cy="595.8" rx="1.8" ry="3.9" transform="rotate(5.0 834.1 595.8)" fill="none" stroke="#111" stroke-width="1.10"/>
<ellipse cx="793.7" cy="675.5" rx="1.8" ry="3.9" transform="rotate(5.0 793.7 675.5)" fill="none" stroke="#111" stroke-width="1.10"/>
<ellipse cx="843.8" cy="691.6" rx="1.8" ry="3.5" transform="rotate(5.0 843.8 691.6)" fill="none" stroke="#111" stroke-width="1.10"/>
<circle cx="810.5" cy="700.1" r="2.2" fill="#111"/>
<line x1="810.5" y1="700.1" x2="819.3" y2="726.4" stroke="#111" stroke-width="1.10"/>
<path d="M809.6 701.0C810.5 701.5 812.3 704.3 814.9 704.5C817.6 704.6 822.5 703.3 825.5 701.8C828.4 700.4 831.3 696.7 832.5 695.7" fill="none" stroke="#111" stroke-width="2.40" />
<!-- 80_leaders.py -->
<line x1="714.3" y1="446.2" x2="703.4" y2="412.8" stroke="#111" stroke-width="1.10"/>
<line x1="714.3" y1="446.2" x2="663.9" y2="436.0" stroke="#111" stroke-width="1.10"/>
<line x1="714.3" y1="446.2" x2="677.3" y2="460.6" stroke="#111" stroke-width="1.10"/>
<line x1="714.3" y1="446.2" x2="655.1" y2="475.9" stroke="#111" stroke-width="1.10"/>
<line x1="878.5" y1="439.0" x2="860.5" y2="417.5" stroke="#111" stroke-width="1.10"/>
<line x1="878.5" y1="439.0" x2="859.0" y2="461.0" stroke="#111" stroke-width="1.10"/>
<line x1="643.0" y1="520.0" x2="634.5" y2="546.0" stroke="#111" stroke-width="1.10"/>
<circle cx="643.0" cy="520.0" r="1.8" fill="#111"/>
<line x1="631.0" y1="569.0" x2="623.0" y2="594.0" stroke="#111" stroke-width="1.10"/>
<circle cx="622.5" cy="595.0" r="1.8" fill="#111"/>
<line x1="708.5" y1="615.0" x2="735.5" y2="502.5" stroke="#111" stroke-width="1.10"/>
<line x1="708.5" y1="615.0" x2="705.5" y2="575.0" stroke="#111" stroke-width="1.10"/>
<line x1="708.5" y1="615.0" x2="661.0" y2="649.0" stroke="#111" stroke-width="1.10"/>
<line x1="918.0" y1="677.5" x2="887.0" y2="612.5" stroke="#111" stroke-width="1.10"/>
<line x1="918.0" y1="677.5" x2="884.5" y2="696.0" stroke="#111" stroke-width="1.10"/>
<line x1="918.0" y1="677.5" x2="914.5" y2="706.0" stroke="#111" stroke-width="1.10"/>
<line x1="771.8" y1="822.0" x2="735.5" y2="730.0" stroke="#111" stroke-width="1.10"/>
<line x1="771.8" y1="822.0" x2="790.0" y2="747.5" stroke="#111" stroke-width="1.10"/>
<line x1="771.8" y1="822.0" x2="767.0" y2="761.0" stroke="#111" stroke-width="1.10"/>
<line x1="771.8" y1="822.0" x2="734.5" y2="775.0" stroke="#111" stroke-width="1.10"/>
<line x1="771.8" y1="822.0" x2="733.0" y2="812.5" stroke="#111" stroke-width="1.10"/>
<line x1="186.0" y1="677.5" x2="214.0" y2="640.0" stroke="#111" stroke-width="1.10"/>
<circle cx="214.5" cy="638.5" r="1.9" fill="#111"/>
<line x1="477.0" y1="314.5" x2="624.0" y2="355.8" stroke="#111" stroke-width="1.00" stroke-dasharray="16 4 3 4"/>
<line x1="563.0" y1="283.0" x2="720.0" y2="326.0" stroke="#111" stroke-width="1.00" stroke-dasharray="16 4 3 4"/>
<line x1="668.0" y1="120.5" x2="677.0" y2="123.1" stroke="#111" stroke-width="1.00" stroke-dasharray="9 0"/>
<line x1="752.5" y1="145.2" x2="855.0" y2="175.1" stroke="#111" stroke-width="1.00" stroke-dasharray="3 4 16 4"/>
<line x1="667.0" y1="121.0" x2="616.0" y2="330.0" stroke="#111" stroke-width="1.00" stroke-dasharray="16 4 3 4"/>
<line x1="660.0" y1="120.0" x2="668.0" y2="120.8" stroke="#111" stroke-width="1.00" stroke-dasharray="8 0"/>
<line x1="578.0" y1="381.0" x2="603.0" y2="388.0" stroke="#111" stroke-width="1.00" stroke-dasharray="14 4 3 4"/>
<circle cx="747.6" cy="336.4" r="1.9" fill="#111"/>
</svg>
</body></html>
